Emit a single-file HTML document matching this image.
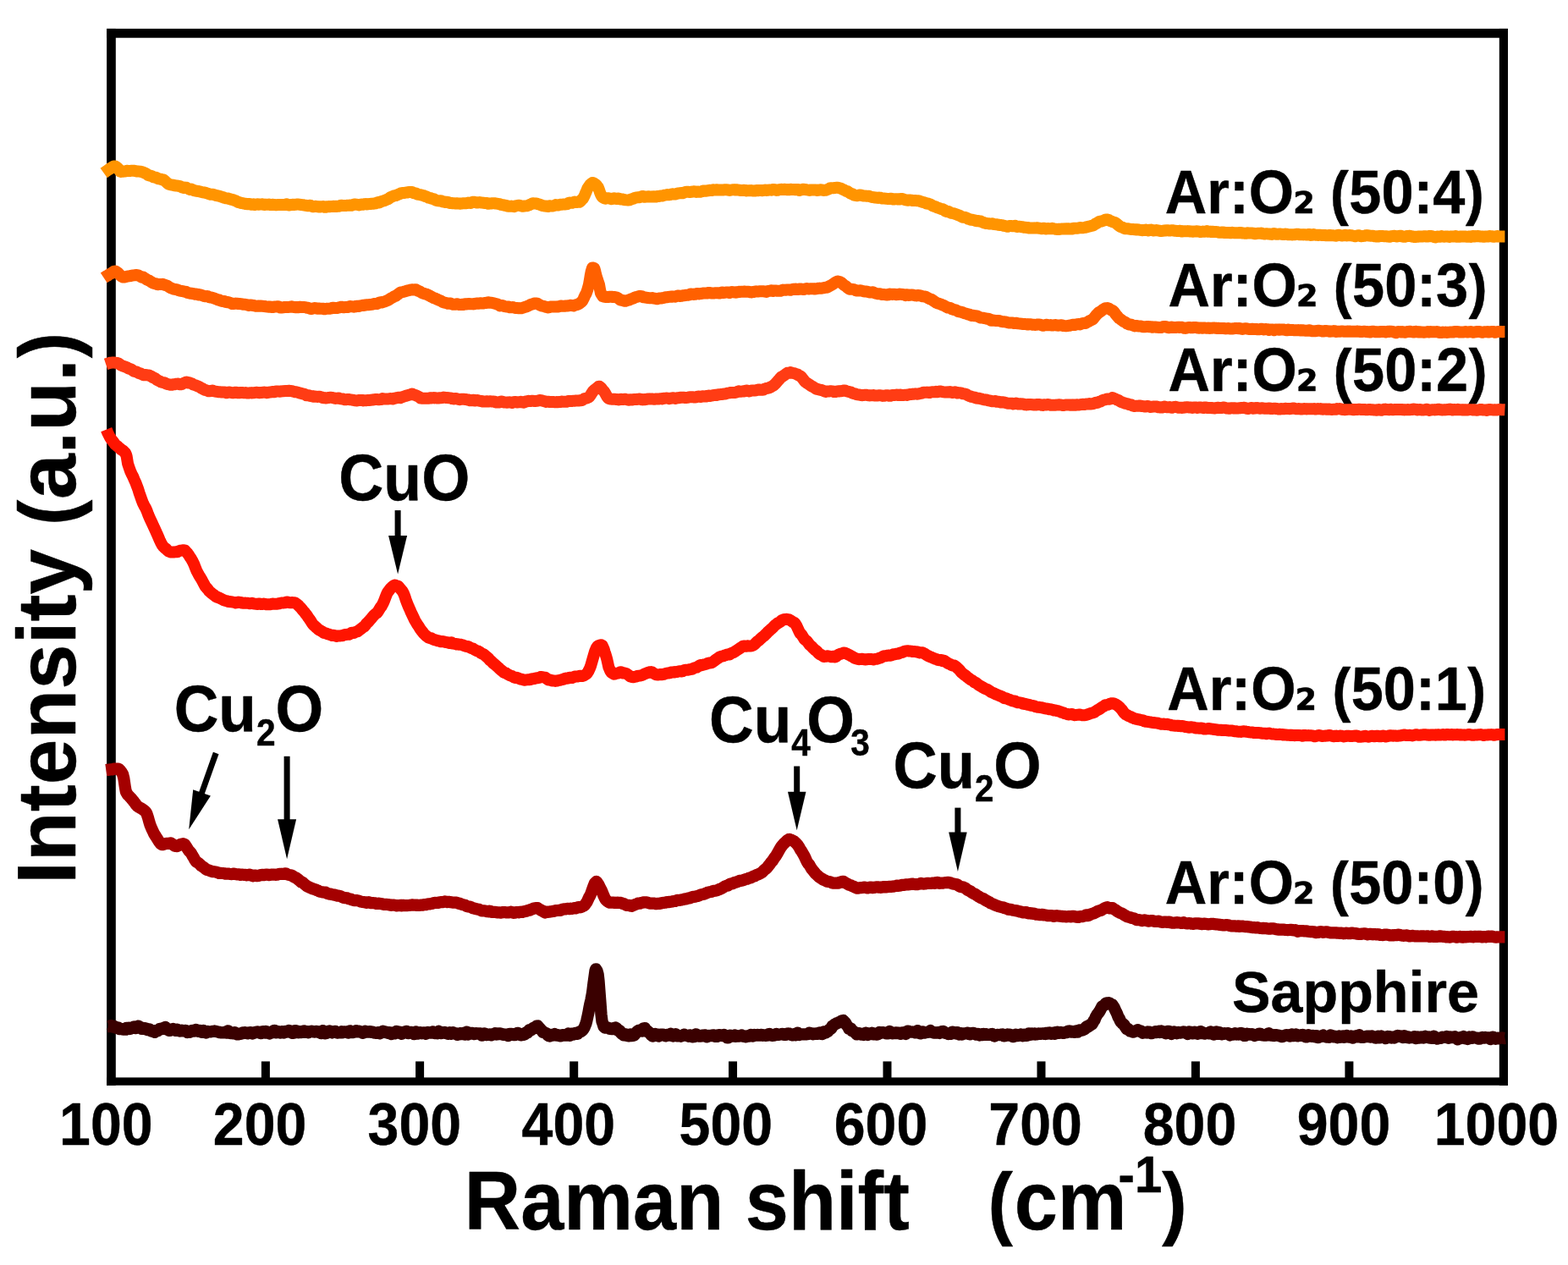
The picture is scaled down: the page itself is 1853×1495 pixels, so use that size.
<!DOCTYPE html>
<html lang="en">
<head>
<meta charset="utf-8">
<title>Raman spectra</title>
<style>
html,body{margin:0;padding:0;background:#fff;}
body{width:1853px;height:1495px;overflow:hidden;}
svg{display:block;filter:blur(0.6px);}
text{font-family:"Liberation Sans",sans-serif;font-weight:bold;fill:#000;stroke:#000;stroke-width:0.45px;stroke-linejoin:round;white-space:pre;}
.dv{font-family:"DejaVu Sans",sans-serif;}
</style>
</head>
<body>
<svg width="1853" height="1495" viewBox="0 0 1853 1495">
<rect x="0" y="0" width="1853" height="1495" fill="#fff"/>
<g fill="#000">
<rect x="126.1" y="33.9" width="1655.90" height="10.80"/>
<rect x="126.1" y="1273.4" width="1655.90" height="9.30"/>
<rect x="126.1" y="33.9" width="10.70" height="1248.80"/>
<rect x="1771.8" y="33.9" width="10.20" height="1248.80"/>
<rect x="308.90" y="1254.4" width="10.0" height="20.00"/>
<rect x="491.10" y="1254.4" width="10.0" height="20.00"/>
<rect x="673.20" y="1254.4" width="10.0" height="20.00"/>
<rect x="861.05" y="1254.4" width="10.0" height="20.00"/>
<rect x="1043.50" y="1254.4" width="10.0" height="20.00"/>
<rect x="1225.50" y="1254.4" width="10.0" height="20.00"/>
<rect x="1407.90" y="1254.4" width="10.0" height="20.00"/>
<rect x="1589.40" y="1254.4" width="10.0" height="20.00"/>
</g>
<text transform="translate(125.3,1352.5) scale(0.953,1.0)" font-size="69.5" text-anchor="middle">100</text>
<text transform="translate(307.1,1352.5) scale(0.953,1.0)" font-size="69.5" text-anchor="middle">200</text>
<text transform="translate(489.8,1352.5) scale(0.953,1.0)" font-size="69.5" text-anchor="middle">300</text>
<text transform="translate(671.8,1352.5) scale(0.953,1.0)" font-size="69.5" text-anchor="middle">400</text>
<text transform="translate(857.8,1352.5) scale(0.953,1.0)" font-size="69.5" text-anchor="middle">500</text>
<text transform="translate(1041.0,1352.5) scale(0.953,1.0)" font-size="69.5" text-anchor="middle">600</text>
<text transform="translate(1223.6,1352.5) scale(0.953,1.0)" font-size="69.5" text-anchor="middle">700</text>
<text transform="translate(1406.0,1352.5) scale(0.953,1.0)" font-size="69.5" text-anchor="middle">800</text>
<text transform="translate(1588.0,1352.5) scale(0.953,1.0)" font-size="69.5" text-anchor="middle">900</text>
<text transform="translate(1768.4,1352.5) scale(0.953,1.0)" font-size="69.5" text-anchor="middle">1000</text>
<text transform="translate(548.8,1452.8) scale(0.938,1.0)" font-size="98" text-anchor="start">Raman shift <tspan font-size="94" x="659.5">(</tspan><tspan dx="2">cm</tspan><tspan font-size="62" dy="-43.4" dx="-10.6">-1</tspan><tspan font-size="94" dy="43.4">)</tspan></text>
<text transform="translate(88.6,1044.8) rotate(-90) scale(1.0,1.03)" font-size="96.3" text-anchor="start">Intensity <tspan font-size="91" dx="1">(</tspan><tspan dx="0.8">a.u.</tspan><tspan font-size="91" dx="0.8">)</tspan></text>
<path d="M127.5,1213.0 L128.5,1213.1 L129.5,1213.1 L130.5,1212.5 L131.5,1211.9 L132.5,1213.3 L133.5,1213.7 L134.5,1212.6 L135.5,1213.7 L136.5,1213.7 L137.6,1214.9 L138.5,1214.3 L139.5,1214.3 L140.5,1215.8 L141.5,1216.1 L142.6,1216.2 L143.5,1216.1 L144.5,1216.1 L145.5,1216.5 L146.5,1216.7 L147.5,1216.6 L148.5,1216.7 L149.5,1214.9 L150.5,1215.0 L151.5,1215.5 L152.5,1214.9 L153.5,1216.0 L154.5,1215.7 L155.5,1215.0 L156.5,1214.9 L157.5,1213.9 L158.5,1213.5 L159.5,1214.9 L160.5,1215.2 L161.5,1214.6 L162.6,1213.8 L163.5,1212.6 L164.5,1213.2 L165.5,1214.1 L166.5,1215.0 L167.5,1215.8 L168.5,1214.9 L169.5,1214.9 L170.5,1216.0 L171.5,1215.7 L172.5,1215.5 L173.5,1216.8 L174.5,1216.3 L175.5,1216.1 L176.5,1216.5 L177.5,1217.7 L178.5,1218.4 L179.5,1217.9 L180.5,1218.0 L181.5,1218.3 L182.6,1219.9 L183.5,1219.4 L184.5,1217.9 L185.5,1218.0 L186.5,1218.1 L187.5,1217.2 L188.5,1216.0 L189.5,1216.0 L190.5,1216.4 L191.5,1215.9 L192.6,1215.2 L193.5,1215.4 L194.5,1214.5 L195.5,1214.0 L196.5,1215.6 L197.5,1216.7 L198.5,1216.9 L199.5,1217.7 L200.5,1217.9 L201.5,1217.0 L202.5,1216.3 L203.5,1216.3 L204.5,1216.0 L205.5,1216.8 L206.5,1217.3 L207.5,1217.8 L208.5,1217.9 L209.5,1216.7 L210.5,1217.8 L211.5,1217.9 L212.7,1218.5 L213.5,1218.2 L214.5,1217.7 L215.5,1218.4 L216.5,1218.1 L217.5,1218.3 L218.5,1217.9 L219.5,1217.9 L220.5,1218.8 L221.5,1219.9 L222.5,1219.4 L223.5,1219.0 L224.5,1219.7 L225.5,1218.9 L226.5,1218.2 L227.5,1217.9 L228.5,1218.6 L229.5,1218.6 L230.5,1217.8 L231.5,1217.2 L232.5,1218.2 L233.5,1218.7 L234.5,1218.3 L235.5,1217.8 L236.5,1217.8 L237.5,1218.6 L238.5,1219.8 L239.5,1219.0 L240.5,1218.0 L241.5,1218.9 L242.5,1219.4 L243.5,1220.5 L244.5,1219.4 L245.5,1219.0 L246.5,1219.3 L247.5,1219.4 L248.5,1219.3 L249.5,1219.3 L250.2,1219.0 L251.5,1218.8 L252.5,1218.8 L253.5,1218.5 L254.5,1218.8 L255.5,1219.0 L256.5,1219.2 L257.5,1219.4 L258.5,1219.8 L259.5,1220.2 L260.5,1220.0 L261.5,1220.3 L262.5,1220.4 L263.5,1220.2 L264.5,1220.4 L265.5,1220.4 L266.5,1219.7 L267.5,1220.7 L268.5,1219.8 L269.5,1218.3 L270.5,1220.2 L271.5,1220.5 L272.5,1221.1 L273.5,1220.5 L274.5,1220.8 L275.3,1221.3 L276.5,1220.4 L277.5,1220.1 L278.5,1221.0 L279.5,1222.2 L280.5,1222.4 L281.5,1222.3 L282.5,1221.7 L283.5,1221.6 L284.5,1221.9 L285.5,1221.4 L286.5,1220.6 L287.5,1221.1 L288.5,1220.5 L289.5,1220.2 L290.5,1220.7 L291.5,1220.9 L292.5,1221.4 L293.5,1221.0 L294.5,1220.4 L295.5,1220.3 L296.5,1220.1 L297.5,1220.5 L298.5,1221.4 L299.5,1221.0 L300.5,1220.2 L301.5,1220.0 L302.5,1219.8 L303.5,1219.7 L304.5,1219.4 L305.5,1220.3 L306.5,1220.3 L307.5,1220.8 L308.5,1221.1 L309.5,1220.3 L310.5,1219.2 L311.5,1219.2 L312.8,1220.5 L313.5,1220.5 L314.5,1219.0 L315.5,1219.3 L316.5,1220.5 L317.5,1220.7 L318.5,1221.4 L319.5,1220.9 L320.5,1220.6 L321.5,1219.9 L322.5,1219.1 L323.5,1218.1 L324.5,1217.8 L325.5,1220.1 L326.5,1220.4 L327.5,1219.7 L328.5,1219.9 L329.5,1219.2 L330.5,1220.5 L331.5,1220.6 L332.5,1220.4 L333.5,1219.1 L334.5,1220.3 L335.5,1220.5 L336.5,1219.7 L337.5,1219.0 L338.5,1219.5 L339.5,1219.5 L340.5,1218.7 L341.5,1218.0 L342.5,1218.2 L343.5,1219.0 L344.5,1220.3 L345.5,1220.8 L346.5,1220.9 L347.5,1219.7 L348.5,1218.2 L349.5,1218.2 L350.4,1218.3 L351.5,1219.2 L352.5,1220.1 L353.5,1219.4 L354.5,1219.1 L355.5,1219.7 L356.5,1220.1 L357.5,1219.9 L358.5,1218.7 L359.5,1218.4 L360.5,1219.0 L361.5,1219.8 L362.5,1219.4 L363.5,1219.1 L364.5,1220.3 L365.5,1219.3 L366.5,1219.1 L367.5,1219.0 L368.5,1218.7 L369.5,1219.1 L370.5,1219.4 L371.5,1219.6 L372.5,1219.5 L373.5,1218.8 L374.5,1218.8 L375.5,1219.8 L376.5,1219.7 L377.5,1220.1 L378.5,1220.5 L379.5,1221.2 L380.5,1219.5 L381.5,1218.1 L382.5,1219.0 L383.5,1220.5 L384.5,1221.3 L385.5,1221.1 L386.5,1220.5 L387.5,1220.3 L388.5,1218.9 L389.5,1218.5 L390.5,1218.7 L391.5,1219.8 L392.5,1220.4 L393.5,1219.8 L394.5,1219.5 L395.5,1219.0 L396.5,1219.0 L397.5,1219.7 L398.5,1220.5 L399.5,1220.1 L400.5,1220.1 L401.5,1220.4 L402.5,1219.9 L403.5,1219.4 L404.5,1220.4 L405.5,1219.7 L406.5,1219.3 L407.5,1219.5 L408.5,1219.7 L409.5,1219.5 L410.5,1220.0 L411.5,1220.5 L412.5,1218.9 L413.5,1218.3 L414.5,1220.0 L415.5,1220.1 L416.5,1220.2 L417.5,1220.0 L418.5,1219.5 L419.5,1219.2 L420.5,1218.4 L421.5,1219.1 L422.5,1219.3 L423.5,1218.6 L424.5,1218.8 L425.5,1219.4 L426.5,1219.8 L427.5,1219.9 L428.5,1220.8 L429.5,1220.7 L430.5,1220.0 L431.5,1218.6 L432.5,1219.1 L433.5,1219.7 L434.5,1219.6 L435.5,1219.7 L436.5,1219.3 L437.5,1219.1 L438.5,1219.7 L439.5,1219.9 L440.5,1219.7 L441.5,1220.0 L442.5,1220.7 L443.5,1220.7 L444.5,1220.8 L445.5,1220.6 L446.5,1220.1 L447.5,1220.2 L448.5,1221.3 L449.5,1220.8 L450.6,1220.5 L451.5,1219.5 L452.5,1218.7 L453.5,1218.9 L454.5,1219.4 L455.5,1219.4 L456.5,1220.3 L457.5,1220.0 L458.5,1220.1 L459.5,1221.1 L460.5,1220.2 L461.5,1220.4 L462.5,1222.1 L463.5,1221.2 L464.5,1220.3 L465.5,1220.3 L466.5,1221.3 L467.5,1220.8 L468.5,1218.9 L469.5,1219.8 L470.5,1220.6 L471.5,1220.5 L472.5,1219.6 L473.5,1220.4 L474.5,1221.8 L475.5,1221.3 L476.5,1220.0 L477.5,1220.2 L478.5,1220.2 L479.5,1220.1 L480.5,1218.8 L481.5,1220.4 L482.5,1221.1 L483.5,1221.0 L484.5,1219.9 L485.5,1219.8 L486.5,1219.8 L487.5,1220.7 L488.5,1221.2 L489.5,1222.1 L490.5,1221.0 L491.5,1219.3 L492.5,1220.3 L493.5,1221.0 L494.5,1221.5 L495.5,1221.2 L496.5,1220.2 L497.5,1220.5 L498.5,1221.2 L499.5,1220.5 L500.6,1220.4 L501.5,1220.3 L502.5,1221.5 L503.5,1221.8 L504.5,1220.8 L505.5,1220.0 L506.5,1220.2 L507.5,1220.4 L508.5,1220.6 L509.5,1220.6 L510.5,1219.5 L511.5,1219.4 L512.5,1220.1 L513.5,1220.9 L514.5,1220.2 L515.5,1220.9 L516.5,1221.2 L517.5,1219.6 L518.5,1218.8 L519.5,1219.3 L520.5,1220.9 L521.5,1221.2 L522.5,1220.6 L523.5,1220.2 L524.5,1220.4 L525.5,1220.0 L526.5,1220.9 L527.5,1221.1 L528.5,1221.3 L529.5,1221.8 L530.5,1220.4 L531.5,1220.2 L532.5,1221.4 L533.5,1221.8 L534.5,1220.5 L535.5,1220.2 L536.5,1221.0 L537.5,1221.4 L538.5,1221.1 L539.5,1222.2 L540.5,1222.9 L541.5,1221.6 L542.5,1221.4 L543.5,1222.4 L544.5,1221.2 L545.5,1222.1 L546.5,1222.0 L547.5,1220.8 L548.5,1221.9 L549.5,1222.5 L550.5,1221.0 L551.5,1219.6 L552.5,1220.9 L553.5,1222.5 L554.5,1221.5 L555.5,1221.8 L556.5,1220.9 L557.5,1220.8 L558.5,1221.0 L559.5,1221.6 L560.7,1222.1 L561.5,1221.7 L562.5,1221.2 L563.5,1221.5 L564.5,1221.6 L565.5,1221.5 L566.5,1221.3 L567.5,1221.4 L568.5,1222.5 L569.5,1223.6 L570.5,1222.7 L571.5,1222.1 L572.5,1221.5 L573.5,1222.0 L574.5,1223.0 L575.5,1222.5 L576.5,1222.8 L577.5,1222.9 L578.5,1222.5 L579.5,1223.2 L580.5,1223.3 L581.5,1222.9 L582.5,1222.1 L583.5,1222.0 L585.0,1221.2 L585.5,1222.2 L586.5,1222.5 L587.5,1222.3 L588.5,1222.3 L589.5,1221.4 L590.5,1221.3 L591.5,1221.3 L592.5,1222.1 L593.5,1222.4 L594.5,1222.9 L595.5,1222.3 L596.5,1222.6 L597.5,1222.6 L598.5,1222.8 L599.5,1223.4 L600.5,1224.0 L601.5,1223.4 L602.5,1221.9 L603.5,1222.2 L604.5,1221.9 L605.5,1222.2 L606.5,1222.1 L607.5,1223.1 L608.5,1223.2 L609.5,1222.4 L610.5,1221.4 L611.5,1220.8 L612.5,1221.0 L613.5,1222.0 L614.5,1222.9 L615.5,1223.4 L616.5,1223.1 L617.6,1222.0 L618.5,1222.2 L619.5,1222.7 L620.5,1222.1 L621.5,1220.7 L622.5,1219.8 L623.5,1220.5 L624.5,1218.9 L625.5,1217.2 L626.4,1217.8 L627.5,1217.4 L628.5,1216.4 L629.5,1215.5 L630.5,1214.7 L631.5,1215.3 L632.5,1214.1 L633.9,1212.7 L634.5,1212.9 L635.5,1212.5 L636.5,1214.0 L637.5,1214.8 L638.5,1216.0 L639.5,1217.1 L640.5,1218.0 L641.5,1219.8 L642.5,1219.8 L643.5,1220.3 L644.5,1220.8 L645.5,1221.1 L646.5,1221.8 L647.5,1223.4 L648.5,1224.2 L649.5,1224.5 L650.8,1223.3 L651.5,1222.9 L652.5,1223.3 L653.5,1223.5 L654.5,1223.0 L655.5,1222.2 L656.5,1223.0 L657.5,1223.7 L658.5,1223.7 L659.5,1223.2 L660.5,1223.4 L661.5,1224.3 L662.5,1224.3 L663.5,1223.5 L664.5,1223.1 L665.5,1223.2 L666.5,1223.6 L667.5,1223.2 L668.5,1223.3 L669.5,1223.6 L670.5,1222.3 L671.5,1221.7 L672.4,1222.6 L673.5,1223.8 L674.5,1222.8 L675.5,1221.6 L676.5,1222.5 L677.5,1222.6 L678.5,1222.0 L679.5,1220.8 L680.5,1220.9 L681.5,1221.4 L682.5,1221.8 L683.2,1220.8 L684.5,1219.7 L685.5,1219.1 L686.5,1219.3 L687.5,1218.3 L688.6,1217.5 L689.5,1216.1 L690.5,1214.4 L691.3,1212.5 L692.5,1209.5 L693.4,1205.9 L694.5,1201.0 L695.5,1196.3 L696.7,1189.6 L697.5,1185.8 L698.5,1181.6 L699.9,1174.2 L700.5,1169.7 L701.5,1161.7 L702.1,1157.4 L703.5,1147.2 L704.2,1145.3 L705.5,1147.3 L706.6,1151.3 L707.5,1159.0 L708.5,1172.2 L709.2,1181.4 L710.5,1198.9 L711.5,1207.1 L712.5,1209.9 L713.5,1213.2 L714.5,1214.3 L715.5,1214.6 L716.5,1214.6 L717.5,1214.3 L718.5,1214.6 L719.9,1215.2 L720.5,1215.8 L721.5,1215.4 L722.5,1216.1 L723.5,1216.1 L724.5,1215.2 L725.5,1215.5 L726.3,1215.7 L727.5,1214.6 L728.5,1215.2 L729.5,1217.1 L730.5,1217.9 L731.7,1217.7 L732.5,1218.2 L733.5,1220.2 L734.5,1221.6 L735.5,1221.4 L736.5,1221.8 L737.1,1223.3 L738.5,1223.5 L739.5,1222.4 L740.5,1222.5 L741.5,1223.4 L742.5,1224.4 L743.5,1224.3 L744.5,1223.2 L745.5,1222.5 L746.5,1224.0 L747.9,1223.0 L748.5,1223.7 L749.5,1223.5 L750.5,1222.2 L751.5,1221.0 L752.5,1219.5 L753.5,1218.5 L754.4,1218.1 L755.5,1217.6 L756.5,1217.6 L757.5,1217.2 L758.5,1218.6 L759.5,1218.5 L760.5,1215.3 L762.0,1215.2 L762.5,1216.8 L763.5,1217.4 L764.5,1217.8 L765.5,1218.8 L766.5,1219.9 L767.4,1220.2 L768.5,1221.7 L769.5,1223.1 L770.5,1224.0 L771.5,1224.5 L772.8,1223.8 L773.5,1223.1 L774.5,1222.0 L775.5,1222.3 L776.5,1222.6 L777.5,1224.1 L778.5,1224.6 L779.5,1223.2 L780.5,1222.6 L781.5,1222.6 L782.5,1222.7 L783.5,1222.7 L784.5,1223.4 L785.5,1223.4 L786.5,1224.3 L787.5,1223.9 L788.9,1222.9 L789.5,1222.8 L790.5,1223.5 L791.5,1222.6 L792.5,1221.8 L793.5,1222.4 L794.5,1223.1 L795.5,1224.5 L796.5,1223.7 L797.5,1222.6 L798.5,1222.2 L799.5,1224.1 L800.5,1224.4 L801.5,1223.9 L802.5,1223.8 L803.5,1224.2 L804.5,1224.7 L805.5,1224.3 L806.5,1223.9 L807.5,1223.7 L808.5,1222.6 L809.5,1223.3 L810.4,1223.7 L811.5,1223.6 L812.5,1224.1 L813.5,1224.7 L814.5,1224.0 L815.5,1223.3 L816.5,1224.4 L817.5,1225.2 L818.5,1225.3 L819.5,1225.2 L820.5,1225.1 L821.5,1223.8 L822.5,1222.3 L823.5,1223.1 L824.5,1223.4 L825.5,1224.2 L826.5,1224.6 L827.5,1224.2 L828.5,1224.5 L829.5,1223.7 L830.5,1224.2 L831.5,1223.6 L832.5,1223.3 L833.5,1223.4 L834.5,1224.5 L835.5,1225.3 L836.5,1224.2 L837.5,1224.0 L838.5,1224.4 L839.5,1223.9 L840.5,1224.1 L841.5,1223.9 L842.5,1223.3 L843.5,1223.4 L844.5,1224.7 L845.5,1224.3 L846.5,1224.0 L847.5,1224.8 L848.5,1224.3 L849.5,1223.2 L850.5,1223.2 L851.5,1223.8 L852.5,1223.9 L853.5,1224.1 L854.5,1223.2 L855.5,1223.0 L856.5,1224.0 L857.5,1224.6 L858.5,1224.7 L859.5,1226.4 L860.5,1226.4 L861.5,1224.5 L862.5,1223.7 L863.5,1224.2 L864.5,1224.0 L865.5,1224.3 L866.5,1224.6 L867.5,1224.0 L868.5,1223.4 L869.5,1224.9 L870.5,1224.1 L871.5,1224.1 L872.5,1224.7 L873.5,1224.5 L874.5,1224.4 L875.5,1224.3 L876.5,1223.6 L877.5,1224.3 L878.5,1224.8 L879.5,1224.4 L880.5,1225.2 L881.5,1225.3 L882.5,1224.4 L883.5,1224.6 L884.5,1224.6 L885.5,1224.7 L886.5,1223.6 L887.5,1223.0 L888.5,1224.3 L889.5,1224.5 L890.5,1224.0 L891.5,1223.0 L892.5,1223.1 L893.5,1223.7 L894.5,1223.5 L895.5,1222.9 L896.5,1223.3 L897.5,1223.6 L898.5,1223.0 L899.5,1222.9 L900.5,1223.0 L901.5,1223.7 L902.5,1223.4 L903.5,1223.4 L904.5,1223.9 L905.5,1223.5 L906.5,1223.1 L907.5,1223.4 L908.5,1222.1 L909.5,1222.0 L910.6,1222.9 L911.5,1223.2 L912.5,1223.8 L913.5,1223.4 L914.5,1223.3 L915.5,1223.5 L916.5,1222.4 L917.5,1221.9 L918.5,1222.8 L919.5,1222.6 L920.5,1222.8 L921.5,1222.3 L922.5,1222.4 L923.5,1222.2 L924.5,1221.9 L925.5,1222.2 L926.5,1222.8 L927.5,1222.8 L928.5,1222.8 L929.5,1222.0 L930.5,1221.6 L931.5,1221.4 L932.5,1221.6 L933.5,1222.2 L934.5,1222.5 L935.5,1223.0 L936.5,1223.4 L937.5,1223.0 L938.5,1222.2 L939.5,1222.1 L940.5,1223.3 L941.5,1222.4 L942.5,1220.6 L943.5,1222.0 L944.5,1222.9 L945.5,1222.3 L946.5,1222.4 L947.5,1222.3 L948.5,1222.4 L949.5,1222.3 L950.5,1222.4 L951.5,1222.3 L952.5,1222.3 L953.5,1221.9 L954.5,1222.1 L955.5,1221.3 L956.5,1220.6 L957.5,1221.6 L958.5,1221.7 L959.5,1221.5 L960.6,1222.3 L961.5,1221.8 L962.5,1221.9 L963.5,1221.5 L964.5,1221.6 L965.5,1221.9 L966.5,1221.9 L967.5,1220.7 L968.5,1220.5 L969.5,1221.8 L970.5,1221.7 L971.5,1222.2 L972.5,1220.6 L973.5,1219.4 L974.5,1220.2 L975.5,1220.5 L976.5,1220.0 L977.5,1219.3 L978.2,1219.1 L979.5,1217.4 L980.5,1216.3 L981.5,1216.2 L982.5,1215.1 L983.5,1212.6 L984.5,1212.3 L985.7,1211.3 L986.5,1210.4 L987.5,1210.2 L988.5,1209.5 L989.5,1209.0 L990.5,1208.7 L991.5,1208.2 L992.5,1208.1 L993.5,1207.6 L994.5,1206.5 L995.5,1206.3 L996.5,1206.0 L997.5,1207.1 L998.5,1208.0 L999.5,1209.5 L1000.5,1211.3 L1001.5,1212.7 L1002.5,1213.9 L1003.2,1215.7 L1004.5,1215.6 L1005.5,1215.7 L1006.5,1218.0 L1007.5,1218.2 L1008.5,1218.7 L1009.5,1219.8 L1010.7,1220.0 L1011.5,1221.5 L1012.5,1222.4 L1013.5,1222.1 L1014.5,1221.3 L1015.5,1221.1 L1016.5,1222.0 L1017.5,1222.5 L1018.5,1222.3 L1019.5,1222.4 L1020.7,1222.9 L1021.5,1221.9 L1022.5,1220.8 L1023.5,1220.7 L1024.5,1222.1 L1025.5,1222.9 L1026.5,1222.1 L1027.5,1221.5 L1028.5,1221.5 L1029.5,1222.0 L1030.5,1220.8 L1031.5,1221.1 L1032.5,1222.4 L1033.5,1221.7 L1034.5,1221.7 L1035.5,1222.7 L1036.5,1222.7 L1037.5,1222.2 L1038.5,1221.9 L1039.5,1220.0 L1040.5,1220.1 L1041.5,1220.7 L1042.5,1220.3 L1043.5,1220.2 L1044.5,1220.3 L1045.5,1220.7 L1046.5,1220.7 L1047.5,1221.4 L1048.5,1221.4 L1049.5,1221.4 L1050.5,1219.6 L1051.5,1219.0 L1052.5,1220.2 L1053.5,1220.8 L1054.5,1221.3 L1055.5,1221.2 L1056.5,1220.6 L1057.6,1221.1 L1058.5,1220.5 L1059.5,1220.5 L1060.5,1221.2 L1061.5,1221.2 L1062.5,1220.7 L1063.5,1221.0 L1064.5,1221.8 L1065.5,1220.7 L1066.5,1220.4 L1067.5,1220.3 L1068.5,1220.2 L1069.5,1221.5 L1070.5,1221.9 L1071.5,1220.6 L1072.5,1218.7 L1073.5,1218.6 L1074.5,1219.7 L1075.5,1219.5 L1076.5,1219.5 L1077.5,1219.6 L1078.5,1219.5 L1079.5,1219.6 L1080.5,1220.0 L1081.5,1220.3 L1082.5,1220.3 L1083.5,1219.6 L1084.5,1218.1 L1085.5,1219.2 L1086.5,1220.9 L1087.5,1221.4 L1088.5,1221.2 L1089.5,1219.6 L1090.5,1219.3 L1091.5,1219.9 L1092.5,1220.6 L1093.5,1220.2 L1094.5,1220.1 L1095.1,1220.0 L1096.5,1219.8 L1097.5,1219.7 L1098.5,1219.6 L1099.5,1218.0 L1100.5,1219.0 L1101.5,1219.5 L1102.5,1220.1 L1103.5,1220.6 L1104.5,1220.1 L1105.5,1220.6 L1106.5,1220.3 L1107.5,1220.3 L1108.5,1220.2 L1109.5,1220.7 L1110.5,1221.0 L1111.5,1219.7 L1112.5,1219.3 L1113.5,1219.1 L1114.5,1218.9 L1115.5,1219.5 L1116.5,1220.9 L1117.5,1220.8 L1118.5,1221.0 L1119.5,1221.2 L1120.5,1222.0 L1121.5,1221.4 L1122.5,1221.4 L1123.5,1221.9 L1124.5,1220.2 L1125.5,1219.7 L1126.5,1219.8 L1127.5,1219.8 L1128.5,1220.7 L1129.5,1221.5 L1130.5,1221.6 L1131.5,1220.1 L1132.5,1221.7 L1133.5,1222.3 L1134.5,1221.2 L1135.5,1221.8 L1136.5,1222.4 L1137.5,1221.3 L1138.5,1221.4 L1139.5,1221.6 L1140.5,1221.3 L1141.5,1221.3 L1142.5,1220.8 L1143.5,1220.7 L1144.5,1221.8 L1145.2,1222.0 L1146.5,1222.3 L1147.5,1221.7 L1148.5,1221.1 L1149.5,1220.8 L1150.5,1220.8 L1151.5,1221.3 L1152.5,1222.2 L1153.5,1222.6 L1154.5,1222.4 L1155.5,1221.9 L1156.5,1222.6 L1157.5,1223.3 L1158.5,1222.5 L1159.5,1222.4 L1160.5,1223.0 L1161.5,1223.1 L1162.5,1222.0 L1163.5,1222.5 L1164.5,1222.9 L1165.5,1222.3 L1166.5,1222.8 L1167.5,1222.9 L1168.5,1222.8 L1169.5,1222.9 L1170.5,1222.9 L1171.5,1222.1 L1172.5,1222.0 L1173.5,1223.3 L1174.5,1224.3 L1175.5,1224.5 L1176.5,1223.4 L1177.5,1223.4 L1178.5,1223.0 L1179.5,1222.8 L1180.5,1223.2 L1181.5,1223.2 L1182.5,1223.1 L1183.5,1222.6 L1184.5,1222.4 L1185.5,1223.1 L1186.5,1224.3 L1187.5,1224.2 L1188.5,1224.0 L1189.5,1223.0 L1190.5,1222.6 L1191.5,1223.5 L1192.5,1223.2 L1193.5,1222.7 L1194.5,1222.9 L1195.3,1224.2 L1196.5,1224.8 L1197.5,1225.1 L1198.5,1225.0 L1199.5,1223.3 L1200.5,1222.7 L1201.5,1223.1 L1202.5,1224.2 L1203.5,1223.1 L1204.5,1223.4 L1205.5,1223.5 L1206.5,1222.3 L1207.5,1223.7 L1208.5,1224.2 L1209.5,1223.3 L1210.5,1222.7 L1211.5,1223.6 L1212.5,1223.8 L1213.5,1223.8 L1214.5,1222.4 L1215.5,1221.5 L1216.5,1222.5 L1217.5,1222.8 L1218.5,1221.6 L1219.5,1221.4 L1220.5,1221.6 L1221.5,1222.2 L1222.5,1221.4 L1223.5,1222.4 L1224.5,1222.0 L1225.5,1222.4 L1226.5,1221.9 L1227.5,1221.4 L1228.5,1221.6 L1229.5,1221.9 L1230.5,1221.6 L1231.5,1221.6 L1232.8,1221.3 L1233.5,1221.6 L1234.5,1221.9 L1235.5,1222.0 L1236.5,1220.8 L1237.5,1221.4 L1238.5,1221.5 L1239.5,1220.7 L1240.5,1220.4 L1241.5,1221.2 L1242.5,1221.8 L1243.5,1221.6 L1244.5,1221.1 L1245.5,1220.3 L1246.5,1221.8 L1247.5,1221.6 L1248.5,1220.2 L1249.5,1219.7 L1250.5,1220.7 L1251.5,1220.9 L1252.5,1220.3 L1253.5,1220.0 L1254.5,1220.4 L1255.5,1220.5 L1256.5,1220.9 L1257.9,1220.9 L1258.5,1220.1 L1259.5,1220.0 L1260.5,1219.5 L1261.5,1219.9 L1262.5,1218.6 L1263.5,1218.5 L1264.5,1219.0 L1265.5,1219.5 L1266.5,1219.0 L1267.5,1219.6 L1268.5,1219.6 L1269.5,1219.8 L1270.5,1219.9 L1271.5,1218.5 L1272.5,1218.6 L1273.5,1219.7 L1274.5,1218.7 L1275.4,1217.4 L1276.5,1218.1 L1277.5,1217.8 L1278.5,1217.6 L1279.5,1217.3 L1280.5,1216.4 L1281.5,1216.5 L1282.5,1215.7 L1283.5,1213.8 L1284.5,1213.0 L1285.5,1213.6 L1286.5,1213.2 L1287.9,1211.4 L1288.5,1211.7 L1289.5,1211.0 L1290.5,1210.3 L1291.5,1208.6 L1292.5,1206.3 L1293.5,1205.6 L1294.5,1202.8 L1295.5,1200.8 L1296.5,1199.1 L1297.9,1197.2 L1298.5,1196.7 L1299.5,1195.0 L1300.5,1193.2 L1301.5,1191.1 L1302.5,1189.3 L1303.5,1189.0 L1304.5,1188.1 L1305.5,1187.6 L1306.5,1186.1 L1307.5,1185.3 L1308.5,1185.4 L1309.5,1186.0 L1310.5,1185.3 L1311.5,1185.7 L1312.5,1186.7 L1313.5,1187.5 L1314.5,1187.4 L1315.5,1188.9 L1316.5,1190.4 L1317.5,1192.7 L1318.5,1194.9 L1319.5,1196.7 L1320.5,1199.1 L1321.5,1201.9 L1323.0,1204.1 L1323.5,1205.8 L1324.5,1207.6 L1325.5,1208.5 L1326.5,1209.6 L1327.5,1210.4 L1328.5,1211.3 L1329.5,1213.1 L1330.5,1214.4 L1331.5,1216.1 L1332.5,1215.5 L1333.5,1216.3 L1334.5,1217.5 L1335.5,1218.6 L1336.5,1218.6 L1337.5,1218.7 L1338.5,1219.5 L1339.5,1219.7 L1340.5,1219.1 L1341.5,1218.7 L1343.0,1218.1 L1343.5,1217.8 L1344.5,1217.2 L1345.5,1217.9 L1346.5,1218.7 L1347.5,1219.1 L1348.5,1218.5 L1349.5,1219.8 L1350.5,1220.7 L1351.5,1220.4 L1352.5,1220.2 L1353.5,1220.4 L1354.5,1220.2 L1355.5,1220.5 L1356.5,1219.5 L1357.5,1219.6 L1358.5,1219.7 L1359.5,1220.8 L1360.5,1221.2 L1361.5,1221.0 L1362.5,1220.4 L1363.5,1220.4 L1364.5,1219.8 L1365.5,1219.2 L1366.5,1220.1 L1367.5,1220.0 L1368.5,1219.3 L1369.5,1218.8 L1370.6,1219.9 L1371.5,1219.5 L1372.5,1218.6 L1373.5,1219.0 L1374.5,1219.9 L1375.5,1220.2 L1376.5,1220.7 L1377.5,1221.1 L1378.5,1219.8 L1379.5,1219.0 L1380.5,1218.8 L1381.5,1218.8 L1382.5,1220.2 L1383.5,1221.2 L1384.5,1222.0 L1385.5,1221.1 L1386.5,1220.5 L1387.5,1219.5 L1388.5,1219.7 L1389.5,1220.9 L1390.5,1221.2 L1391.5,1220.4 L1392.5,1219.9 L1393.5,1220.5 L1394.5,1220.6 L1395.5,1220.2 L1396.5,1220.4 L1397.5,1219.8 L1398.5,1219.4 L1399.5,1219.6 L1400.5,1220.0 L1401.5,1220.7 L1402.5,1221.3 L1403.5,1221.9 L1404.5,1221.0 L1405.5,1219.3 L1406.5,1219.7 L1407.5,1220.0 L1408.5,1221.1 L1409.5,1221.4 L1410.5,1220.6 L1411.5,1219.7 L1412.5,1220.0 L1413.5,1220.7 L1414.5,1221.6 L1415.5,1221.8 L1416.5,1220.4 L1417.5,1220.1 L1418.5,1219.1 L1419.5,1219.3 L1420.5,1221.1 L1421.5,1220.9 L1422.5,1221.0 L1423.5,1221.6 L1424.5,1221.2 L1425.5,1221.2 L1426.5,1220.9 L1427.5,1221.1 L1428.5,1221.3 L1429.5,1220.1 L1430.5,1219.3 L1431.5,1220.8 L1432.5,1220.9 L1433.5,1222.0 L1434.5,1222.5 L1435.5,1222.0 L1436.5,1220.5 L1437.5,1219.5 L1438.5,1221.0 L1439.1,1221.9 L1440.5,1221.1 L1441.5,1220.4 L1442.5,1221.2 L1443.5,1222.3 L1444.5,1222.0 L1445.5,1222.0 L1446.5,1221.9 L1447.5,1221.2 L1448.5,1221.6 L1449.5,1221.7 L1450.5,1221.1 L1451.5,1221.2 L1452.5,1222.7 L1453.5,1223.4 L1454.5,1222.8 L1455.5,1222.2 L1456.5,1222.5 L1457.5,1222.5 L1458.5,1222.0 L1459.5,1221.2 L1460.5,1221.6 L1461.5,1222.5 L1462.5,1222.2 L1463.5,1222.5 L1464.5,1221.9 L1465.5,1221.1 L1466.5,1221.0 L1467.5,1221.4 L1468.5,1221.4 L1469.5,1222.3 L1470.5,1223.9 L1471.5,1223.9 L1472.5,1223.0 L1473.5,1221.9 L1474.5,1222.5 L1475.5,1222.1 L1476.5,1222.2 L1477.5,1222.6 L1478.5,1222.4 L1479.5,1222.1 L1480.5,1223.1 L1481.5,1223.3 L1482.5,1224.0 L1483.5,1223.2 L1484.5,1223.0 L1485.5,1222.9 L1486.5,1223.0 L1487.5,1221.9 L1488.5,1221.6 L1489.5,1221.9 L1490.5,1222.8 L1491.5,1223.4 L1492.5,1222.9 L1493.5,1223.5 L1494.5,1223.4 L1495.5,1223.6 L1496.5,1223.7 L1497.5,1222.6 L1498.5,1221.6 L1499.5,1221.3 L1500.5,1222.5 L1501.5,1223.5 L1502.5,1222.7 L1503.5,1223.3 L1504.5,1223.9 L1505.5,1224.0 L1506.5,1223.1 L1507.5,1223.4 L1508.5,1223.2 L1509.5,1223.7 L1510.5,1223.6 L1511.5,1223.6 L1512.5,1224.4 L1513.5,1224.2 L1514.2,1225.0 L1515.5,1225.1 L1516.5,1224.6 L1517.5,1224.4 L1518.5,1223.9 L1519.5,1223.3 L1520.5,1223.2 L1521.5,1223.6 L1522.5,1223.4 L1523.5,1224.0 L1524.5,1224.6 L1525.5,1224.1 L1526.5,1222.5 L1527.5,1223.2 L1528.5,1224.1 L1529.5,1223.7 L1530.5,1223.3 L1531.5,1222.4 L1532.5,1223.6 L1533.5,1224.3 L1534.5,1223.9 L1535.5,1223.9 L1536.5,1223.4 L1537.5,1223.2 L1538.5,1223.7 L1539.5,1222.9 L1540.5,1223.3 L1541.5,1224.5 L1542.5,1225.2 L1543.5,1224.8 L1544.5,1225.4 L1545.5,1223.8 L1546.5,1223.2 L1547.5,1224.4 L1548.5,1224.4 L1549.5,1224.7 L1550.5,1224.8 L1551.5,1224.1 L1552.5,1224.7 L1553.5,1224.6 L1554.5,1225.4 L1555.5,1224.1 L1556.5,1225.1 L1557.5,1226.2 L1558.5,1225.0 L1559.5,1224.9 L1560.5,1225.1 L1561.5,1224.7 L1562.5,1224.9 L1563.5,1223.5 L1564.5,1224.3 L1565.5,1224.5 L1566.5,1225.0 L1567.5,1225.5 L1568.5,1224.9 L1569.5,1225.6 L1570.5,1225.8 L1571.5,1225.2 L1572.5,1223.5 L1573.5,1223.7 L1574.5,1224.7 L1575.5,1225.2 L1576.5,1225.4 L1577.5,1224.6 L1578.5,1225.0 L1579.5,1225.8 L1580.5,1226.2 L1581.5,1225.5 L1582.5,1224.4 L1583.5,1225.8 L1584.5,1225.6 L1585.5,1225.7 L1586.5,1224.7 L1587.5,1224.4 L1588.5,1225.8 L1589.3,1225.4 L1590.5,1224.6 L1591.5,1224.0 L1592.5,1224.7 L1593.5,1225.4 L1594.5,1224.9 L1595.5,1225.1 L1596.5,1224.6 L1597.5,1225.5 L1598.5,1226.7 L1599.5,1225.7 L1600.5,1225.4 L1601.5,1224.6 L1602.5,1224.3 L1603.5,1225.2 L1604.5,1225.3 L1605.5,1224.1 L1606.5,1223.2 L1607.5,1224.3 L1608.5,1225.9 L1609.5,1225.3 L1610.5,1225.5 L1611.5,1225.8 L1612.5,1225.3 L1613.5,1225.3 L1614.5,1224.8 L1615.5,1224.7 L1616.5,1225.1 L1617.5,1224.7 L1618.5,1224.6 L1619.5,1225.6 L1620.5,1225.3 L1621.5,1224.6 L1622.5,1225.4 L1623.5,1225.4 L1624.5,1225.5 L1625.5,1226.6 L1626.5,1226.6 L1627.5,1225.6 L1628.5,1224.7 L1629.5,1225.8 L1630.5,1226.3 L1631.5,1225.5 L1632.5,1224.6 L1633.5,1225.3 L1634.5,1225.4 L1635.5,1225.3 L1636.5,1225.6 L1637.5,1227.2 L1638.5,1226.2 L1639.5,1225.0 L1640.5,1225.7 L1641.5,1225.1 L1642.5,1225.3 L1643.5,1225.6 L1644.5,1226.5 L1645.5,1225.6 L1646.5,1225.7 L1647.5,1226.5 L1648.5,1225.9 L1649.5,1225.6 L1650.5,1224.3 L1651.5,1224.0 L1652.5,1224.8 L1653.5,1224.7 L1654.5,1224.4 L1655.5,1225.1 L1656.5,1225.4 L1657.5,1225.9 L1658.5,1224.7 L1659.5,1224.2 L1660.5,1224.6 L1661.5,1225.2 L1662.5,1226.0 L1663.5,1225.9 L1664.4,1225.5 L1665.5,1226.5 L1666.5,1226.2 L1667.5,1226.2 L1668.5,1225.8 L1669.5,1226.2 L1670.5,1225.9 L1671.5,1225.3 L1672.5,1226.0 L1673.5,1227.2 L1674.5,1226.6 L1675.5,1225.4 L1676.5,1225.8 L1677.5,1226.6 L1678.5,1226.4 L1679.5,1225.6 L1680.5,1226.4 L1681.5,1226.0 L1682.5,1226.5 L1683.5,1226.2 L1684.5,1224.9 L1685.5,1225.3 L1686.5,1225.5 L1687.5,1225.9 L1688.5,1225.5 L1689.5,1226.6 L1690.5,1226.4 L1691.5,1226.9 L1692.5,1226.7 L1693.5,1225.8 L1694.5,1224.6 L1695.5,1226.2 L1696.5,1227.2 L1697.5,1227.1 L1698.5,1227.6 L1699.5,1226.9 L1700.5,1226.8 L1701.5,1226.9 L1702.5,1226.8 L1703.5,1226.2 L1704.5,1225.6 L1705.5,1226.1 L1706.5,1225.9 L1707.5,1225.6 L1708.5,1225.6 L1709.5,1224.8 L1710.5,1225.7 L1711.5,1226.8 L1712.5,1226.7 L1713.5,1225.4 L1714.5,1225.7 L1715.5,1225.6 L1716.5,1225.8 L1717.5,1226.1 L1718.5,1225.8 L1719.5,1225.3 L1720.5,1225.8 L1721.5,1227.1 L1722.5,1228.4 L1723.5,1227.7 L1724.5,1226.7 L1725.5,1227.2 L1726.5,1226.3 L1727.5,1225.6 L1728.5,1225.6 L1729.5,1225.1 L1730.5,1226.2 L1731.5,1227.1 L1732.5,1226.5 L1733.5,1227.3 L1734.5,1228.0 L1735.5,1226.8 L1736.5,1225.5 L1737.5,1225.8 L1738.5,1226.5 L1739.5,1226.8 L1740.5,1225.3 L1741.5,1226.0 L1742.5,1226.4 L1743.5,1226.4 L1744.5,1226.7 L1745.5,1226.6 L1746.5,1227.3 L1747.5,1227.6 L1748.5,1227.7 L1749.5,1226.8 L1750.5,1226.3 L1751.5,1226.0 L1752.5,1226.6 L1753.5,1226.6 L1754.5,1226.6 L1755.5,1226.0 L1756.5,1226.3 L1757.5,1226.4 L1758.5,1226.7 L1759.5,1226.4 L1760.5,1227.4 L1761.5,1228.0 L1762.5,1226.4 L1763.5,1225.6 L1764.5,1225.6 L1765.5,1226.7 L1766.5,1226.9 L1767.5,1227.7 L1768.5,1226.9 L1769.5,1226.7 L1770.5,1227.4 L1771.5,1227.1 L1772.5,1226.7 L1773.5,1226.6 L1774.5,1226.7 L1775.5,1226.5 L1776.5,1226.8 L1777.5,1227.0 L1778.4,1226.8" fill="none" stroke="#3A0000" stroke-width="14.3" stroke-linejoin="round" stroke-linecap="butt"/>
<path d="M125.3,910.1 L126.8,909.9 L128.3,909.8 L129.8,909.5 L131.3,909.3 L132.5,909.4 L134.3,908.8 L135.8,908.5 L137.3,908.6 L138.5,908.5 L140.3,908.8 L141.8,910.2 L143.3,912.1 L145.1,915.0 L146.3,919.7 L147.8,930.0 L148.8,935.5 L150.8,939.2 L152.3,940.5 L153.8,942.3 L155.1,943.6 L156.8,945.6 L158.3,947.5 L159.8,949.5 L161.3,951.6 L162.6,952.9 L164.3,954.0 L165.8,954.8 L167.3,955.7 L168.8,956.7 L170.3,957.8 L171.8,959.0 L172.6,960.1 L173.3,961.2 L174.8,965.7 L176.3,971.1 L177.6,975.3 L179.3,979.4 L180.8,982.5 L182.3,985.7 L183.8,988.0 L185.1,990.0 L186.8,992.8 L188.3,995.2 L189.8,997.1 L191.4,998.2 L192.8,998.1 L194.3,997.6 L195.8,997.0 L197.3,996.8 L198.8,996.9 L200.2,996.5 L201.8,996.4 L203.3,997.3 L204.8,998.5 L206.3,999.6 L207.7,1000.0 L209.3,1000.1 L210.8,999.4 L212.3,998.4 L213.8,997.7 L215.3,997.5 L216.4,997.1 L218.3,998.0 L219.8,1000.1 L221.3,1002.5 L223.2,1005.5 L224.3,1006.5 L225.8,1008.2 L227.3,1011.0 L228.8,1013.3 L230.3,1016.2 L231.8,1018.3 L233.0,1018.9 L234.8,1020.2 L236.3,1021.5 L237.8,1023.2 L239.3,1024.2 L240.8,1025.1 L242.3,1026.3 L243.8,1027.6 L245.5,1028.1 L246.8,1028.5 L248.3,1029.1 L249.8,1029.7 L251.3,1030.1 L252.8,1030.1 L254.3,1030.4 L255.8,1030.7 L257.3,1031.2 L258.8,1031.8 L260.3,1031.8 L261.8,1032.0 L263.3,1032.0 L264.8,1032.2 L266.3,1032.6 L267.8,1032.5 L269.3,1032.5 L270.8,1032.8 L272.3,1033.0 L273.8,1033.1 L275.3,1032.8 L276.8,1032.5 L278.3,1033.1 L279.8,1033.4 L281.3,1033.4 L282.8,1033.3 L284.3,1033.9 L285.8,1033.5 L287.3,1033.7 L288.8,1033.9 L290.3,1033.9 L291.8,1034.3 L293.3,1034.1 L294.8,1033.7 L296.3,1034.1 L297.8,1034.9 L299.3,1035.3 L300.3,1034.6 L302.3,1034.7 L303.8,1035.2 L305.3,1035.0 L306.8,1034.5 L308.3,1034.0 L309.8,1033.9 L311.3,1034.1 L312.8,1034.1 L314.3,1033.6 L315.8,1033.6 L317.3,1034.1 L318.8,1033.9 L320.4,1033.7 L321.8,1033.6 L323.3,1033.5 L324.8,1033.7 L326.3,1033.8 L327.8,1033.6 L329.3,1033.0 L330.8,1032.8 L332.3,1032.9 L332.9,1033.0 L333.8,1032.9 L335.3,1032.8 L336.8,1032.4 L338.3,1032.6 L339.8,1033.5 L341.3,1033.9 L342.8,1034.2 L344.3,1034.5 L345.4,1034.9 L347.3,1036.4 L348.8,1037.1 L350.3,1037.7 L351.8,1038.9 L353.3,1040.1 L354.8,1041.4 L355.4,1042.2 L356.3,1042.2 L357.8,1043.0 L359.3,1044.5 L360.8,1045.7 L362.3,1047.0 L362.9,1047.4 L363.8,1047.8 L365.3,1048.4 L366.8,1049.2 L368.3,1049.8 L369.8,1050.5 L371.3,1050.9 L372.8,1051.3 L374.3,1052.0 L375.8,1052.5 L377.3,1053.4 L378.8,1053.8 L380.5,1054.2 L381.8,1054.5 L383.3,1054.6 L384.8,1054.7 L386.3,1055.7 L387.8,1056.0 L389.3,1056.6 L390.8,1056.7 L392.3,1057.1 L393.8,1057.4 L395.3,1057.6 L396.8,1058.1 L398.3,1058.6 L399.8,1058.7 L401.3,1058.8 L402.8,1059.4 L404.3,1060.1 L405.5,1060.7 L407.3,1061.1 L408.8,1061.2 L410.3,1061.4 L411.8,1062.1 L413.3,1062.5 L414.8,1062.8 L416.3,1063.5 L417.8,1063.9 L419.3,1064.1 L420.8,1064.0 L422.3,1064.3 L423.8,1064.5 L425.5,1065.2 L426.8,1065.6 L428.3,1066.0 L429.8,1066.1 L431.3,1066.3 L432.8,1066.8 L434.3,1066.4 L435.8,1066.2 L437.3,1066.7 L438.8,1067.2 L440.3,1067.2 L441.8,1067.2 L443.3,1067.4 L444.8,1068.0 L446.3,1067.8 L447.8,1067.7 L449.3,1068.0 L450.6,1068.1 L452.3,1068.5 L453.8,1068.9 L455.3,1068.8 L456.8,1068.9 L458.3,1069.0 L459.8,1069.3 L461.3,1069.7 L462.8,1069.8 L464.3,1069.6 L465.8,1069.6 L467.3,1069.9 L468.8,1070.3 L470.3,1070.2 L471.8,1070.0 L473.3,1069.9 L474.8,1070.3 L475.6,1069.9 L476.3,1069.8 L477.8,1070.1 L479.3,1070.2 L480.8,1070.2 L482.3,1070.0 L483.8,1069.9 L485.3,1069.7 L486.8,1069.4 L488.3,1069.6 L489.8,1069.6 L491.3,1069.8 L492.8,1069.7 L494.3,1069.8 L495.8,1069.8 L497.3,1069.7 L498.8,1069.7 L500.6,1069.3 L501.8,1069.1 L503.3,1069.1 L504.8,1068.5 L506.3,1068.4 L507.8,1068.4 L509.3,1068.0 L510.8,1067.7 L512.3,1067.2 L513.8,1066.9 L515.3,1067.0 L516.8,1066.9 L518.3,1066.8 L519.8,1066.3 L521.3,1066.2 L522.8,1066.1 L524.3,1065.9 L525.7,1065.4 L527.3,1065.7 L528.8,1066.1 L530.3,1065.8 L531.8,1066.1 L533.3,1066.3 L534.8,1066.6 L536.3,1066.5 L537.8,1066.6 L539.3,1066.5 L540.7,1067.2 L542.3,1067.8 L543.8,1067.9 L545.3,1068.7 L546.8,1069.1 L548.3,1069.5 L549.8,1069.7 L551.3,1070.9 L553.2,1071.4 L554.3,1071.5 L555.8,1071.8 L557.3,1072.4 L558.8,1073.2 L560.3,1073.5 L561.8,1074.0 L563.3,1074.3 L564.8,1074.7 L566.3,1074.9 L567.8,1075.6 L569.3,1076.5 L570.8,1076.4 L572.3,1076.4 L573.8,1076.5 L575.3,1077.1 L576.8,1077.3 L578.3,1076.7 L580.0,1077.0 L581.3,1077.9 L582.8,1077.9 L584.3,1077.8 L585.8,1078.0 L587.3,1078.3 L588.8,1078.3 L590.3,1078.3 L591.8,1078.7 L593.3,1078.3 L594.8,1078.0 L596.3,1078.1 L597.8,1078.3 L599.3,1078.4 L600.8,1078.5 L602.3,1078.3 L603.8,1077.6 L605.1,1078.2 L606.8,1078.8 L608.3,1078.7 L609.8,1078.2 L611.3,1078.1 L612.8,1078.3 L614.3,1077.9 L615.8,1077.7 L617.3,1077.9 L618.8,1077.3 L620.3,1077.1 L621.8,1076.8 L622.6,1076.5 L623.3,1076.1 L624.8,1075.8 L626.3,1075.6 L627.8,1074.7 L629.3,1074.2 L630.8,1073.5 L632.3,1073.3 L633.9,1073.1 L635.3,1073.2 L636.8,1074.2 L638.3,1075.0 L639.8,1076.0 L641.3,1076.5 L642.8,1077.7 L644.3,1078.5 L645.1,1078.0 L645.8,1077.7 L647.3,1077.8 L648.8,1077.7 L650.3,1077.4 L651.8,1077.2 L653.3,1076.9 L654.8,1076.8 L656.3,1076.3 L657.8,1076.0 L659.3,1076.0 L660.8,1075.8 L662.3,1076.0 L663.8,1075.1 L665.2,1074.5 L666.8,1074.4 L668.3,1074.4 L669.8,1074.0 L671.3,1073.8 L672.8,1074.2 L674.3,1073.7 L675.8,1073.9 L677.3,1073.5 L678.8,1073.1 L680.3,1073.4 L681.8,1072.8 L683.3,1072.2 L684.8,1072.2 L685.8,1072.3 L687.8,1071.6 L689.3,1070.8 L690.8,1069.8 L691.8,1068.5 L693.8,1065.6 L695.3,1062.3 L696.1,1060.3 L696.8,1059.4 L698.3,1056.2 L699.4,1053.0 L701.3,1047.8 L702.1,1045.7 L702.8,1044.0 L704.8,1041.9 L705.8,1043.1 L707.5,1045.7 L708.8,1048.3 L710.3,1051.4 L711.2,1053.1 L711.8,1054.5 L713.3,1058.3 L714.8,1061.6 L715.6,1063.0 L716.3,1063.7 L717.8,1065.1 L719.3,1066.1 L719.9,1066.6 L720.8,1066.7 L722.3,1066.7 L723.8,1066.6 L725.3,1066.6 L726.3,1066.9 L728.3,1066.9 L729.8,1066.6 L730.3,1066.9 L731.3,1066.9 L732.8,1066.8 L734.3,1067.1 L735.8,1068.0 L737.3,1068.1 L738.8,1069.0 L740.3,1069.8 L741.8,1069.8 L743.3,1069.9 L744.8,1070.3 L745.3,1070.7 L746.3,1070.8 L747.8,1070.2 L749.3,1069.4 L750.8,1068.9 L752.3,1068.5 L753.8,1067.7 L755.3,1067.6 L756.8,1067.6 L758.3,1066.8 L759.8,1066.7 L760.3,1066.4 L761.3,1066.4 L762.8,1066.5 L764.3,1066.3 L765.8,1066.9 L767.3,1067.5 L768.8,1067.7 L770.3,1067.7 L771.8,1067.5 L773.3,1067.6 L774.8,1067.9 L775.3,1068.1 L776.3,1068.1 L777.8,1067.8 L779.3,1068.0 L780.8,1067.6 L782.3,1067.2 L783.8,1066.8 L785.3,1066.8 L786.8,1066.6 L788.3,1066.1 L789.8,1066.1 L791.3,1065.9 L792.8,1065.7 L794.3,1065.5 L795.8,1065.0 L797.3,1065.0 L797.9,1064.9 L798.8,1064.6 L800.3,1063.9 L801.8,1064.0 L803.3,1063.9 L804.8,1063.6 L806.3,1063.0 L807.8,1063.0 L809.3,1062.4 L810.8,1062.4 L812.3,1062.0 L813.8,1061.4 L815.3,1061.4 L816.8,1060.5 L818.3,1060.1 L819.8,1059.9 L821.3,1059.7 L822.9,1059.2 L824.3,1059.0 L825.8,1058.5 L827.3,1057.9 L828.8,1057.2 L830.3,1057.0 L831.8,1056.8 L833.3,1056.0 L834.8,1055.5 L836.3,1054.7 L837.8,1054.4 L839.3,1054.0 L840.8,1054.0 L842.3,1053.1 L843.8,1052.8 L845.3,1052.7 L846.8,1052.3 L848.0,1051.9 L849.8,1051.2 L851.3,1050.5 L852.8,1049.9 L854.3,1049.0 L855.8,1048.1 L857.3,1047.1 L858.8,1046.8 L860.3,1046.5 L861.8,1045.3 L863.3,1044.5 L864.8,1044.3 L865.5,1044.4 L866.3,1044.0 L867.8,1043.0 L869.3,1042.7 L870.8,1042.2 L872.3,1041.7 L873.8,1040.9 L875.3,1041.0 L876.8,1040.6 L878.3,1040.2 L879.8,1039.6 L881.3,1039.0 L882.8,1038.8 L884.3,1038.1 L885.5,1037.6 L887.3,1037.2 L888.8,1036.4 L890.3,1035.7 L891.8,1035.3 L893.3,1034.4 L894.8,1033.7 L896.3,1033.2 L897.8,1032.4 L899.3,1031.7 L900.6,1030.8 L902.3,1029.0 L903.8,1027.6 L905.3,1026.7 L906.8,1025.1 L908.3,1023.0 L909.8,1021.3 L910.6,1020.0 L911.3,1019.0 L912.8,1017.5 L914.3,1015.2 L915.8,1012.9 L917.3,1010.9 L918.8,1008.4 L920.6,1005.1 L921.8,1003.0 L923.3,1000.6 L924.8,998.8 L926.3,997.0 L928.1,995.3 L929.3,994.2 L930.8,992.9 L932.3,992.0 L933.1,991.8 L933.8,992.4 L935.3,992.7 L936.8,993.5 L938.3,994.3 L939.4,995.2 L941.3,997.1 L942.8,998.8 L944.3,1001.1 L945.8,1004.0 L946.9,1005.4 L948.8,1008.6 L950.3,1011.3 L951.8,1014.3 L953.3,1017.7 L954.8,1020.3 L955.6,1021.4 L956.3,1021.9 L957.8,1024.5 L959.3,1027.0 L960.8,1028.8 L962.3,1030.6 L963.8,1032.5 L965.7,1034.2 L966.8,1035.2 L968.3,1036.7 L969.8,1037.7 L971.3,1038.4 L972.8,1039.6 L974.3,1040.2 L975.8,1040.8 L977.3,1041.7 L978.2,1041.8 L978.8,1041.9 L980.3,1042.0 L981.8,1042.6 L983.3,1043.3 L984.8,1043.7 L986.3,1043.7 L988.2,1043.6 L989.3,1043.7 L990.8,1043.7 L992.3,1042.8 L993.8,1042.4 L994.5,1042.6 L995.3,1041.8 L996.8,1041.9 L998.3,1042.8 L999.8,1043.8 L1001.3,1044.6 L1003.2,1045.6 L1004.3,1046.0 L1005.8,1046.4 L1007.3,1047.2 L1008.8,1047.7 L1010.3,1048.6 L1011.8,1049.2 L1013.2,1049.7 L1014.8,1049.4 L1016.3,1049.1 L1017.8,1049.1 L1019.3,1049.0 L1020.8,1048.6 L1022.3,1048.6 L1023.8,1049.2 L1025.3,1049.4 L1026.8,1048.8 L1028.3,1048.7 L1029.8,1048.7 L1031.3,1049.1 L1032.8,1049.0 L1034.3,1048.5 L1035.8,1048.4 L1037.3,1048.4 L1038.8,1048.6 L1040.3,1048.8 L1041.8,1048.7 L1043.3,1048.3 L1045.0,1048.0 L1046.3,1048.3 L1047.8,1048.3 L1049.3,1048.0 L1050.8,1047.9 L1052.3,1047.9 L1053.8,1047.9 L1055.3,1047.6 L1056.8,1047.4 L1058.3,1047.1 L1059.8,1046.7 L1061.3,1046.8 L1062.8,1046.7 L1064.3,1046.5 L1065.8,1045.9 L1067.3,1045.8 L1068.8,1045.8 L1070.1,1045.3 L1071.8,1045.4 L1073.3,1045.3 L1074.8,1045.2 L1076.3,1045.0 L1077.8,1044.5 L1079.3,1044.8 L1080.8,1045.0 L1082.3,1045.2 L1083.8,1045.2 L1085.3,1044.9 L1086.8,1044.5 L1088.3,1043.9 L1089.8,1044.3 L1091.3,1044.6 L1092.8,1044.5 L1094.3,1044.2 L1095.1,1043.9 L1095.8,1043.9 L1097.3,1043.9 L1098.8,1044.0 L1100.3,1044.0 L1101.8,1043.6 L1103.3,1043.5 L1104.8,1043.9 L1106.3,1043.2 L1107.8,1042.8 L1109.3,1043.7 L1110.8,1043.8 L1112.3,1043.6 L1113.8,1043.7 L1115.3,1043.4 L1116.8,1043.1 L1118.3,1043.1 L1120.2,1042.9 L1121.3,1042.9 L1122.8,1043.2 L1124.3,1043.8 L1125.8,1044.4 L1127.3,1044.6 L1128.8,1045.0 L1130.3,1045.0 L1131.8,1045.8 L1132.7,1046.7 L1133.3,1047.1 L1134.8,1047.8 L1136.3,1048.2 L1137.8,1048.3 L1139.3,1049.0 L1140.8,1049.6 L1142.3,1050.9 L1143.8,1052.0 L1145.2,1052.6 L1146.8,1053.4 L1148.3,1054.6 L1149.8,1055.6 L1151.3,1056.3 L1152.8,1057.0 L1154.3,1058.1 L1155.8,1059.0 L1157.3,1060.0 L1158.8,1060.9 L1160.2,1061.5 L1161.8,1062.0 L1163.3,1063.0 L1164.8,1064.0 L1166.3,1064.7 L1167.8,1065.6 L1169.3,1066.3 L1170.8,1067.4 L1172.3,1068.0 L1173.8,1068.6 L1175.3,1069.3 L1176.8,1069.9 L1178.3,1070.4 L1179.8,1071.1 L1181.3,1071.5 L1182.8,1071.9 L1184.3,1072.2 L1185.8,1072.5 L1187.3,1073.2 L1188.8,1073.6 L1190.3,1074.0 L1191.8,1074.7 L1193.3,1074.9 L1194.8,1074.9 L1195.3,1075.1 L1196.3,1075.5 L1197.8,1075.8 L1199.3,1076.0 L1200.8,1076.3 L1202.3,1076.4 L1203.8,1076.9 L1205.3,1077.4 L1206.8,1077.6 L1208.3,1078.2 L1209.8,1078.5 L1211.3,1078.2 L1212.8,1078.1 L1214.3,1079.1 L1215.8,1079.5 L1217.3,1079.1 L1218.8,1079.6 L1220.3,1079.8 L1221.8,1079.6 L1223.3,1080.0 L1224.8,1080.7 L1226.3,1080.7 L1227.8,1080.9 L1229.3,1081.2 L1230.8,1080.9 L1232.3,1080.8 L1233.8,1081.5 L1235.3,1081.5 L1236.8,1081.7 L1238.3,1082.2 L1239.8,1082.1 L1241.3,1082.1 L1242.8,1082.1 L1244.3,1082.6 L1245.4,1082.9 L1247.3,1082.4 L1248.8,1082.2 L1250.3,1082.5 L1251.8,1082.6 L1253.3,1082.8 L1254.8,1082.9 L1256.3,1083.1 L1257.8,1083.1 L1259.3,1083.3 L1260.8,1083.4 L1262.3,1083.1 L1263.8,1083.2 L1265.3,1083.3 L1266.8,1082.9 L1268.3,1082.9 L1269.8,1083.1 L1270.4,1083.3 L1271.3,1083.6 L1272.8,1083.7 L1274.3,1084.0 L1275.8,1083.2 L1277.3,1083.0 L1278.8,1083.2 L1280.3,1082.7 L1281.8,1082.5 L1283.3,1081.3 L1284.8,1081.4 L1285.4,1082.1 L1286.3,1082.0 L1287.8,1081.2 L1289.3,1080.3 L1290.8,1079.9 L1292.3,1079.5 L1293.8,1078.8 L1295.4,1078.1 L1296.8,1077.2 L1298.3,1076.6 L1299.8,1076.2 L1301.3,1075.7 L1303.0,1074.6 L1304.3,1074.0 L1305.8,1073.1 L1307.3,1072.5 L1308.8,1072.2 L1310.5,1072.9 L1311.8,1073.5 L1313.3,1073.2 L1314.8,1073.2 L1316.3,1074.3 L1317.8,1075.2 L1319.3,1076.1 L1320.5,1077.2 L1322.3,1078.1 L1323.8,1078.9 L1325.3,1079.3 L1326.8,1080.2 L1328.3,1081.1 L1329.8,1082.1 L1330.5,1082.3 L1331.3,1083.0 L1332.8,1083.5 L1334.3,1083.9 L1335.8,1084.2 L1337.3,1085.0 L1338.8,1085.1 L1340.3,1085.4 L1341.8,1086.2 L1343.0,1087.1 L1344.8,1087.0 L1346.3,1087.0 L1347.8,1087.6 L1349.3,1088.1 L1350.8,1087.7 L1352.3,1087.4 L1353.8,1087.5 L1355.3,1088.1 L1356.8,1088.6 L1358.3,1088.4 L1359.8,1088.2 L1361.3,1088.1 L1362.8,1088.3 L1364.3,1088.9 L1365.8,1089.0 L1367.3,1088.9 L1368.8,1088.7 L1370.6,1089.2 L1371.8,1089.5 L1373.3,1089.8 L1374.8,1089.8 L1376.3,1089.6 L1377.8,1089.7 L1379.3,1089.8 L1380.8,1089.7 L1382.3,1089.7 L1383.8,1090.3 L1385.3,1090.7 L1386.8,1090.5 L1388.3,1090.6 L1389.8,1090.3 L1391.3,1090.2 L1392.8,1090.4 L1394.3,1090.5 L1395.8,1090.9 L1397.3,1090.8 L1398.8,1090.2 L1400.3,1090.9 L1401.8,1091.2 L1403.3,1091.4 L1404.8,1091.0 L1406.3,1091.2 L1407.8,1091.6 L1409.3,1091.8 L1410.8,1091.8 L1412.3,1091.3 L1413.8,1091.3 L1415.3,1091.5 L1416.8,1091.4 L1418.3,1091.8 L1419.8,1092.1 L1421.3,1091.9 L1422.8,1091.5 L1424.3,1091.7 L1425.8,1092.0 L1427.3,1092.3 L1428.8,1092.3 L1430.3,1092.1 L1431.8,1091.8 L1433.3,1091.8 L1434.8,1092.1 L1436.3,1092.3 L1437.8,1092.4 L1439.1,1092.5 L1440.8,1092.8 L1442.3,1092.9 L1443.8,1093.2 L1445.3,1093.3 L1446.8,1093.4 L1448.3,1093.2 L1449.8,1093.2 L1451.3,1093.3 L1452.8,1093.8 L1454.3,1094.2 L1455.8,1094.4 L1457.3,1094.3 L1458.8,1094.3 L1460.3,1094.6 L1461.8,1094.5 L1463.3,1094.4 L1464.8,1094.8 L1466.3,1094.7 L1467.8,1094.5 L1469.3,1094.8 L1470.8,1095.0 L1472.3,1095.2 L1473.8,1095.2 L1475.3,1095.3 L1476.8,1095.5 L1478.3,1095.8 L1479.8,1096.1 L1481.3,1096.1 L1482.8,1096.2 L1484.3,1096.4 L1485.8,1096.1 L1487.3,1096.5 L1489.2,1097.0 L1490.3,1097.0 L1491.8,1097.1 L1493.3,1096.8 L1494.8,1097.2 L1496.3,1097.1 L1497.8,1097.5 L1499.3,1097.6 L1500.8,1097.6 L1502.3,1097.4 L1503.8,1097.4 L1505.3,1097.3 L1506.8,1097.9 L1508.3,1098.2 L1509.8,1098.4 L1511.3,1098.6 L1512.8,1098.6 L1514.3,1098.6 L1515.8,1098.6 L1517.3,1098.6 L1518.8,1099.0 L1520.3,1099.0 L1521.8,1099.1 L1523.3,1099.0 L1524.8,1098.9 L1526.3,1098.9 L1527.8,1099.3 L1529.3,1099.5 L1530.8,1099.2 L1532.3,1099.9 L1533.8,1100.8 L1535.3,1100.3 L1536.8,1100.0 L1538.3,1100.2 L1539.8,1100.2 L1541.3,1100.3 L1542.8,1100.4 L1544.3,1100.4 L1545.8,1100.8 L1547.3,1101.0 L1548.8,1101.1 L1550.3,1101.1 L1551.8,1101.3 L1553.3,1101.4 L1554.8,1102.1 L1556.3,1101.9 L1557.8,1101.8 L1559.3,1101.4 L1560.8,1101.0 L1562.3,1101.4 L1563.8,1101.8 L1564.3,1101.7 L1565.3,1101.5 L1566.8,1101.4 L1568.3,1101.4 L1569.8,1101.8 L1571.3,1102.2 L1572.8,1102.4 L1574.3,1102.4 L1575.8,1102.3 L1577.3,1102.4 L1578.8,1102.4 L1580.3,1102.6 L1581.8,1102.7 L1583.3,1102.8 L1584.8,1102.7 L1586.3,1102.8 L1587.8,1103.3 L1589.3,1103.1 L1590.8,1102.5 L1592.3,1102.9 L1593.8,1103.2 L1595.3,1103.2 L1596.8,1102.5 L1598.3,1102.6 L1599.8,1103.0 L1601.3,1103.2 L1602.8,1103.2 L1604.3,1103.8 L1605.8,1104.0 L1607.3,1103.9 L1608.8,1103.8 L1610.3,1103.5 L1611.8,1103.4 L1613.3,1103.3 L1614.8,1104.0 L1616.3,1104.4 L1617.8,1104.1 L1619.3,1103.8 L1620.8,1104.1 L1622.3,1104.3 L1623.8,1104.0 L1625.3,1104.3 L1626.8,1104.5 L1628.3,1104.2 L1629.8,1104.4 L1631.3,1104.9 L1632.8,1105.0 L1634.3,1105.1 L1635.8,1104.8 L1637.3,1104.5 L1638.8,1104.7 L1639.4,1104.7 L1640.3,1104.8 L1641.8,1105.2 L1643.3,1105.5 L1644.8,1105.4 L1646.3,1105.5 L1647.8,1105.0 L1649.3,1105.1 L1650.8,1105.1 L1652.3,1104.7 L1653.8,1104.8 L1655.3,1105.3 L1656.8,1105.6 L1658.3,1105.8 L1659.8,1105.7 L1661.3,1105.6 L1662.8,1105.4 L1664.3,1105.9 L1665.8,1106.4 L1667.3,1106.2 L1668.8,1105.9 L1670.3,1106.1 L1671.8,1106.4 L1673.3,1106.5 L1674.8,1106.3 L1676.3,1106.5 L1677.8,1106.5 L1679.3,1106.4 L1680.8,1106.4 L1682.3,1106.4 L1683.8,1106.5 L1685.3,1106.5 L1686.8,1106.3 L1688.3,1106.6 L1689.5,1107.0 L1691.3,1106.6 L1692.8,1106.3 L1694.3,1106.9 L1695.8,1106.8 L1697.3,1106.8 L1698.8,1106.9 L1700.3,1106.6 L1701.8,1106.4 L1703.3,1106.6 L1704.8,1106.8 L1706.3,1106.8 L1707.8,1107.0 L1709.3,1107.5 L1710.8,1107.2 L1712.3,1107.4 L1713.8,1107.6 L1715.3,1107.1 L1716.8,1106.8 L1718.3,1106.9 L1719.8,1107.2 L1721.3,1107.6 L1722.8,1107.4 L1724.3,1107.0 L1725.8,1106.9 L1727.3,1107.4 L1728.8,1107.6 L1730.3,1107.2 L1731.8,1107.5 L1733.3,1107.3 L1734.8,1107.1 L1736.3,1107.0 L1737.8,1106.9 L1739.6,1107.1 L1740.8,1107.3 L1742.3,1106.9 L1743.8,1106.9 L1745.3,1107.0 L1746.8,1106.9 L1748.3,1106.9 L1749.8,1106.9 L1751.3,1107.3 L1752.8,1107.3 L1754.3,1107.1 L1755.8,1107.4 L1757.3,1107.0 L1758.8,1106.5 L1760.3,1106.7 L1761.8,1107.0 L1763.3,1106.7 L1764.8,1107.1 L1766.3,1107.5 L1767.8,1107.6 L1769.3,1107.4 L1770.8,1107.5 L1772.3,1107.4 L1773.8,1107.4 L1775.3,1107.3 L1776.8,1107.4 L1778.4,1107.4" fill="none" stroke="#A40000" stroke-width="14.2" stroke-linejoin="round" stroke-linecap="butt"/>
<path d="M125.7,507.6 L127.2,511.2 L128.7,514.4 L130.1,517.1 L131.7,519.4 L133.2,521.2 L134.7,523.2 L136.1,525.2 L137.7,526.6 L139.2,527.6 L140.7,529.1 L142.2,530.3 L143.1,531.2 L143.7,531.6 L145.2,532.4 L146.7,533.8 L148.2,535.5 L149.1,537.6 L149.7,539.6 L151.1,548.1 L152.7,552.9 L154.2,557.1 L155.7,560.4 L157.2,563.3 L158.7,566.9 L160.2,570.1 L161.3,573.0 L163.2,578.0 L164.7,582.9 L166.2,587.1 L167.6,591.1 L169.2,595.2 L170.7,598.2 L172.2,600.7 L173.7,604.1 L175.1,608.0 L176.7,611.8 L178.2,615.0 L179.7,618.1 L181.2,621.5 L182.7,624.6 L184.2,628.0 L185.1,629.9 L185.7,631.2 L187.2,634.8 L188.7,638.3 L190.2,641.4 L191.7,644.2 L192.6,645.4 L193.2,646.1 L194.7,647.6 L196.2,648.6 L197.7,650.2 L199.2,651.5 L200.7,652.1 L202.7,652.6 L203.7,652.4 L205.2,652.6 L206.7,652.4 L208.2,652.2 L209.7,652.3 L210.2,651.8 L211.2,651.3 L212.7,650.8 L214.2,650.6 L215.7,650.3 L217.2,650.4 L217.7,650.2 L218.7,650.6 L220.2,652.3 L221.7,654.0 L223.2,656.1 L224.7,658.6 L225.2,659.2 L226.2,660.8 L227.7,663.5 L229.2,666.6 L230.7,670.5 L232.2,674.2 L233.7,677.1 L235.2,679.9 L236.7,682.4 L238.2,684.7 L239.7,687.6 L241.2,690.4 L242.7,693.2 L244.2,694.9 L245.7,696.5 L247.2,698.6 L247.7,699.1 L248.7,699.9 L250.2,701.2 L251.7,702.4 L253.2,703.4 L254.7,704.7 L256.2,705.5 L257.7,706.0 L259.2,706.7 L260.3,707.1 L262.2,708.1 L263.7,708.9 L265.2,709.5 L266.7,709.9 L268.2,710.3 L269.7,710.9 L271.2,711.0 L272.7,711.2 L274.2,711.4 L275.3,711.6 L277.2,711.9 L278.7,712.5 L280.2,712.2 L281.7,711.6 L283.2,711.8 L284.7,711.9 L286.2,712.6 L287.7,712.8 L289.2,712.6 L290.7,712.7 L292.2,712.7 L293.7,713.0 L295.3,713.3 L296.7,712.9 L298.2,712.8 L299.7,713.3 L301.2,713.6 L302.7,713.8 L304.2,713.9 L305.7,713.5 L307.2,713.4 L308.7,714.0 L310.2,713.9 L311.7,713.6 L312.8,713.8 L314.7,714.3 L316.2,714.3 L317.7,714.3 L319.2,714.3 L320.7,713.9 L322.2,713.6 L323.7,713.7 L325.4,713.7 L326.7,713.8 L328.2,713.5 L329.7,713.3 L331.2,712.8 L332.7,712.5 L334.2,712.4 L335.7,712.4 L337.2,712.2 L337.9,711.8 L338.7,711.6 L340.2,711.6 L341.7,712.1 L343.2,712.3 L344.7,712.0 L346.2,712.2 L347.9,712.3 L349.2,712.7 L350.7,713.7 L352.2,715.0 L353.7,716.7 L355.2,718.0 L356.7,719.9 L357.9,721.4 L359.7,723.4 L361.2,725.5 L362.7,727.3 L364.2,729.6 L365.7,731.6 L367.2,733.9 L368.7,736.3 L370.4,738.6 L371.7,739.7 L373.2,741.1 L374.7,742.4 L376.2,743.9 L377.7,744.7 L379.2,745.6 L380.7,746.4 L382.2,747.6 L383.0,748.1 L383.7,748.1 L385.2,748.5 L386.7,749.1 L388.2,749.6 L389.7,750.0 L391.2,750.4 L392.7,751.1 L394.2,750.8 L395.7,751.1 L397.2,751.7 L398.0,751.9 L398.7,751.6 L400.2,751.5 L401.7,751.4 L403.2,751.3 L404.7,751.2 L406.2,750.6 L407.7,750.0 L409.2,749.9 L410.7,749.8 L412.2,749.8 L413.0,749.7 L413.7,748.9 L415.2,748.0 L416.7,747.8 L418.2,748.0 L419.7,747.1 L421.2,746.6 L422.7,746.2 L424.2,744.9 L425.5,744.0 L427.2,742.8 L428.7,741.5 L430.2,740.6 L431.7,739.0 L433.2,736.8 L434.7,735.5 L436.2,733.8 L438.0,731.7 L439.2,730.4 L440.7,728.5 L442.2,726.9 L443.7,725.5 L445.2,724.5 L446.7,722.8 L448.2,720.2 L449.7,717.8 L450.6,716.8 L451.2,715.8 L452.7,713.0 L454.2,709.5 L455.7,705.6 L457.2,701.7 L458.1,700.0 L458.7,699.2 L460.2,697.2 L461.7,695.2 L463.2,693.9 L464.7,692.6 L466.2,691.6 L466.8,691.5 L467.7,691.9 L469.2,692.5 L470.7,693.0 L472.2,694.7 L473.7,696.5 L475.6,698.8 L476.7,700.7 L478.2,704.4 L479.7,709.0 L481.2,712.9 L483.1,717.6 L484.2,719.9 L485.7,723.5 L487.2,726.6 L488.7,729.8 L490.2,733.0 L491.7,735.5 L493.1,737.8 L494.7,740.2 L496.2,742.7 L497.7,744.7 L499.2,746.7 L500.7,748.6 L502.2,750.1 L503.7,751.6 L505.7,753.0 L506.7,753.7 L508.2,754.2 L509.7,754.3 L511.2,755.2 L512.7,756.1 L514.2,756.3 L515.7,756.7 L517.2,757.3 L518.7,757.3 L520.2,757.8 L520.7,758.2 L521.7,758.3 L523.2,758.0 L524.7,758.3 L526.2,759.0 L527.7,758.9 L529.2,759.3 L530.7,760.0 L532.2,759.4 L533.7,759.3 L535.2,760.6 L536.7,760.7 L538.2,760.9 L539.7,761.5 L541.2,761.3 L542.7,761.7 L544.2,761.7 L545.7,762.0 L547.2,762.6 L548.7,763.2 L550.2,763.7 L551.7,764.1 L553.2,764.1 L554.7,764.8 L556.2,765.8 L557.7,766.2 L559.2,766.7 L560.7,767.7 L562.2,768.6 L563.7,769.2 L565.2,769.6 L566.7,770.4 L568.2,771.7 L569.7,772.6 L571.2,773.0 L572.5,773.9 L574.2,775.4 L575.7,776.8 L577.2,778.0 L578.7,780.0 L580.2,781.1 L581.7,782.5 L582.5,783.7 L583.2,784.0 L584.7,785.2 L586.2,786.5 L587.7,787.9 L589.2,789.1 L590.7,790.7 L592.2,792.0 L593.7,793.1 L595.1,794.4 L596.7,795.2 L598.2,795.6 L599.7,796.8 L601.2,797.4 L602.7,798.3 L604.2,798.7 L605.7,799.4 L607.2,800.3 L608.7,801.0 L610.1,800.7 L611.7,801.2 L613.2,801.8 L614.7,802.5 L616.2,802.7 L617.7,803.2 L619.2,803.7 L620.7,803.7 L622.6,803.4 L623.7,803.3 L625.2,803.2 L626.7,803.0 L628.2,802.5 L629.7,802.3 L631.2,802.1 L632.6,801.6 L634.2,801.3 L635.7,801.2 L637.2,800.9 L638.7,800.1 L640.2,800.0 L642.2,800.4 L643.2,800.4 L644.7,800.8 L646.2,802.2 L647.7,803.4 L648.6,803.3 L649.2,803.2 L650.7,803.8 L652.2,804.5 L653.7,804.3 L655.2,804.6 L656.2,804.9 L658.2,804.6 L659.7,804.1 L661.2,803.9 L662.7,803.5 L664.2,803.2 L665.7,802.8 L667.0,802.2 L668.7,801.6 L670.2,801.8 L671.7,801.4 L673.2,800.7 L674.7,800.9 L676.2,800.9 L677.7,800.3 L679.2,799.6 L680.7,799.6 L682.2,799.5 L683.2,799.2 L685.2,798.7 L686.7,798.9 L688.2,799.0 L689.7,798.6 L690.7,798.0 L692.7,796.7 L694.2,795.2 L695.0,793.9 L695.7,792.6 L697.2,789.3 L698.3,786.4 L700.4,779.0 L701.7,774.5 L703.1,769.7 L704.7,766.0 L706.4,763.5 L707.7,762.9 L709.1,762.5 L710.7,762.3 L711.8,763.0 L713.7,767.3 L714.5,770.2 L715.2,772.2 L716.7,777.0 L717.2,778.8 L718.2,783.2 L719.3,788.4 L721.2,792.9 L722.6,794.8 L724.2,795.8 L725.7,796.7 L726.3,796.6 L727.2,796.0 L728.7,795.8 L730.2,795.6 L731.7,795.1 L733.2,794.3 L733.9,794.3 L734.7,794.8 L736.2,795.4 L737.7,795.3 L739.2,795.8 L740.4,796.3 L742.2,797.4 L743.7,798.6 L745.2,799.6 L746.9,800.1 L748.2,800.2 L749.7,800.0 L751.2,799.7 L752.7,799.3 L753.3,798.8 L754.2,798.8 L755.7,798.6 L757.2,798.3 L758.7,797.9 L760.2,797.4 L762.0,796.3 L763.2,795.9 L764.7,795.4 L766.2,794.7 L767.7,794.3 L769.5,794.1 L770.7,794.5 L772.2,795.7 L773.7,796.4 L775.2,797.3 L777.1,797.4 L778.2,797.4 L779.7,797.1 L781.2,797.1 L782.7,797.2 L784.2,796.9 L785.7,796.3 L787.2,795.8 L788.7,795.5 L790.2,795.4 L791.7,795.3 L793.2,794.5 L794.7,794.4 L796.2,794.3 L797.7,794.4 L799.2,793.9 L800.7,793.9 L801.9,793.4 L803.7,793.2 L805.2,793.6 L806.7,793.2 L808.2,792.3 L809.7,791.7 L811.2,791.7 L812.7,791.8 L814.2,791.4 L815.7,790.9 L817.2,790.9 L818.1,790.8 L818.7,790.1 L820.2,789.6 L821.7,789.0 L823.2,788.7 L824.7,787.9 L826.2,786.8 L827.7,786.1 L828.9,786.2 L830.7,785.7 L832.2,785.3 L833.7,785.0 L835.2,784.6 L836.7,783.8 L838.6,783.4 L839.7,783.5 L841.2,783.2 L843.0,781.9 L844.2,781.0 L845.7,779.8 L847.2,778.7 L848.7,777.8 L850.2,776.7 L851.7,776.0 L853.0,775.6 L854.7,775.3 L856.2,774.6 L857.7,774.2 L859.2,773.6 L860.7,773.6 L862.2,773.5 L863.7,772.3 L865.5,771.4 L866.7,771.3 L868.2,770.3 L869.7,769.2 L871.2,768.2 L872.7,767.2 L874.2,766.3 L875.7,765.2 L877.2,764.2 L878.0,763.7 L878.7,763.4 L880.2,763.5 L881.7,763.8 L883.2,763.3 L884.7,763.4 L886.2,763.6 L888.0,763.3 L889.2,763.1 L890.7,762.2 L892.2,761.1 L893.7,759.3 L895.2,757.9 L896.7,757.1 L898.0,755.7 L899.7,754.1 L901.2,752.8 L902.7,751.8 L904.2,750.3 L905.7,748.8 L907.2,747.1 L908.7,745.8 L910.6,744.0 L911.7,743.1 L913.2,741.8 L914.7,740.1 L916.2,738.7 L917.7,737.6 L919.2,736.3 L920.6,735.8 L922.2,734.7 L923.7,733.2 L925.2,732.7 L926.7,731.9 L928.1,731.9 L929.7,731.8 L931.2,732.1 L932.7,732.4 L934.2,733.3 L935.7,734.2 L937.2,735.3 L938.1,735.7 L938.7,735.7 L940.2,737.7 L941.7,740.3 L943.2,743.6 L944.7,746.9 L945.6,748.5 L946.2,748.8 L947.7,750.7 L949.2,753.1 L950.7,755.5 L952.2,756.8 L953.1,757.4 L953.7,757.9 L955.2,759.9 L956.7,762.0 L958.2,763.3 L959.7,764.6 L961.2,766.3 L963.2,768.2 L964.2,768.8 L965.7,770.1 L967.2,771.8 L968.7,773.2 L970.2,773.8 L971.7,774.7 L973.2,775.9 L974.7,775.9 L976.2,775.7 L977.7,775.3 L979.2,775.4 L980.7,775.8 L982.2,776.2 L983.7,775.9 L985.2,775.7 L985.7,776.4 L986.7,776.5 L988.2,775.7 L989.7,774.5 L991.2,773.6 L992.7,773.0 L994.2,772.5 L995.7,772.2 L997.0,771.4 L998.7,771.6 L1000.2,772.4 L1001.7,773.1 L1003.2,773.8 L1004.7,774.5 L1005.7,775.3 L1007.7,776.3 L1009.2,777.2 L1010.7,778.0 L1012.2,778.4 L1013.7,778.9 L1015.2,779.2 L1015.7,779.1 L1016.7,779.1 L1018.2,778.7 L1019.7,778.9 L1021.2,779.3 L1022.7,779.4 L1024.2,779.3 L1025.7,778.9 L1027.2,778.9 L1028.7,779.1 L1030.2,779.1 L1031.7,779.3 L1032.5,779.5 L1033.2,779.1 L1034.7,778.9 L1036.2,778.7 L1037.7,778.3 L1039.2,777.7 L1040.7,777.4 L1042.2,776.6 L1043.7,775.7 L1045.0,775.3 L1046.7,775.3 L1048.2,774.8 L1049.7,774.6 L1051.2,774.5 L1052.7,774.7 L1054.2,774.2 L1055.7,773.3 L1057.2,773.3 L1058.7,772.8 L1060.1,772.7 L1061.7,772.5 L1063.2,771.7 L1064.7,771.3 L1066.2,770.9 L1067.7,770.3 L1069.2,769.6 L1070.7,769.4 L1072.6,769.2 L1073.7,769.4 L1075.2,769.4 L1076.7,769.6 L1078.2,770.0 L1079.7,770.1 L1081.2,770.0 L1082.7,770.3 L1084.2,770.5 L1085.7,771.0 L1087.2,771.4 L1088.7,771.2 L1090.1,771.3 L1091.7,772.1 L1093.2,772.8 L1094.7,773.9 L1096.2,774.8 L1097.7,775.6 L1099.2,776.2 L1100.7,776.8 L1102.6,777.6 L1103.7,778.1 L1105.2,778.7 L1106.7,779.1 L1108.2,779.9 L1109.7,780.2 L1111.2,779.9 L1112.7,780.2 L1114.2,781.3 L1115.2,781.2 L1115.7,780.8 L1117.2,781.7 L1118.7,782.9 L1120.2,783.9 L1121.7,784.5 L1123.2,785.2 L1124.7,786.0 L1126.2,786.5 L1127.7,786.6 L1129.2,787.5 L1130.7,788.7 L1132.2,790.2 L1133.7,791.6 L1135.2,793.4 L1136.7,795.2 L1138.2,796.3 L1139.7,797.6 L1140.2,797.7 L1141.2,798.4 L1142.7,800.0 L1144.2,801.0 L1145.7,802.2 L1147.2,803.3 L1148.7,803.9 L1150.2,805.1 L1151.7,806.4 L1152.7,806.6 L1154.7,808.0 L1156.2,809.3 L1157.7,810.2 L1159.2,811.1 L1160.7,812.0 L1162.2,812.8 L1163.7,813.7 L1165.2,814.3 L1166.7,814.8 L1168.2,815.8 L1169.7,816.7 L1171.2,817.8 L1172.7,818.5 L1174.2,819.2 L1175.7,819.9 L1177.2,820.6 L1178.7,821.1 L1180.2,821.9 L1181.7,822.4 L1182.8,822.8 L1184.7,823.7 L1186.2,824.9 L1187.7,825.3 L1189.2,825.3 L1190.7,826.0 L1192.2,826.7 L1193.7,827.1 L1195.2,827.9 L1196.7,828.4 L1198.2,828.7 L1199.7,828.5 L1200.3,829.3 L1201.2,829.8 L1202.7,830.2 L1204.2,830.3 L1205.7,830.4 L1207.2,830.8 L1208.7,831.6 L1210.2,831.9 L1211.7,831.8 L1213.2,832.3 L1214.7,832.8 L1216.2,833.0 L1217.7,833.5 L1219.2,833.9 L1220.3,834.0 L1222.2,834.3 L1223.7,835.2 L1225.2,835.5 L1226.7,835.7 L1228.2,835.8 L1229.7,836.1 L1231.2,836.3 L1232.7,836.7 L1234.2,837.1 L1235.7,837.4 L1237.2,837.4 L1238.7,837.8 L1240.2,838.3 L1241.7,838.3 L1243.2,838.7 L1244.7,839.2 L1245.4,839.4 L1246.2,839.3 L1247.7,839.6 L1249.2,840.1 L1250.7,840.3 L1252.2,840.8 L1253.7,841.5 L1255.2,842.0 L1256.7,842.3 L1258.2,843.2 L1259.7,843.5 L1261.2,844.1 L1262.7,844.4 L1264.2,844.3 L1265.4,844.1 L1267.2,844.1 L1268.7,844.8 L1270.2,845.2 L1271.7,844.9 L1273.2,844.8 L1274.7,844.6 L1276.2,844.6 L1277.7,845.0 L1279.2,845.3 L1280.4,845.2 L1282.2,845.2 L1283.7,844.9 L1285.2,844.4 L1286.7,843.8 L1288.2,843.3 L1289.7,842.7 L1291.2,842.6 L1292.9,841.9 L1294.2,841.0 L1295.7,840.0 L1297.2,839.0 L1298.7,838.4 L1300.2,837.4 L1301.7,836.1 L1303.0,835.4 L1304.7,834.5 L1306.2,833.3 L1307.7,832.9 L1309.2,832.8 L1310.5,832.4 L1312.2,831.5 L1313.7,831.2 L1315.5,831.3 L1316.7,831.6 L1318.2,832.3 L1319.7,833.1 L1321.2,834.2 L1323.0,835.8 L1324.2,837.1 L1325.7,838.6 L1327.2,840.9 L1328.7,842.8 L1330.5,844.4 L1331.7,844.9 L1333.2,845.9 L1334.7,846.5 L1336.2,846.9 L1337.7,848.0 L1339.2,848.6 L1340.5,849.1 L1342.2,849.5 L1343.7,850.0 L1345.2,850.3 L1346.7,850.5 L1348.2,851.1 L1349.7,851.2 L1351.2,851.4 L1352.7,852.5 L1354.2,852.8 L1355.7,852.8 L1357.2,853.1 L1358.0,853.3 L1358.7,853.2 L1360.2,853.7 L1361.7,854.0 L1363.2,854.0 L1364.7,854.2 L1366.2,854.4 L1367.7,854.4 L1369.2,854.9 L1370.7,855.3 L1372.2,855.7 L1373.7,855.7 L1375.2,855.6 L1376.7,856.0 L1378.2,855.9 L1379.7,855.8 L1381.2,856.3 L1383.1,856.6 L1384.2,857.2 L1385.7,857.4 L1387.2,857.6 L1388.7,857.7 L1390.2,857.7 L1391.7,857.9 L1393.2,857.7 L1394.7,858.2 L1396.2,858.2 L1397.7,857.9 L1399.2,858.5 L1400.7,858.9 L1402.2,859.0 L1403.7,859.6 L1405.2,859.7 L1406.7,859.3 L1408.2,859.3 L1409.7,859.6 L1411.2,859.8 L1412.7,860.3 L1414.2,860.6 L1415.7,860.6 L1417.2,860.7 L1418.7,860.6 L1420.2,860.6 L1421.7,860.9 L1423.2,861.6 L1424.7,861.6 L1426.2,861.4 L1427.7,861.1 L1429.2,861.0 L1430.7,861.3 L1432.2,861.6 L1433.7,861.8 L1435.2,862.1 L1436.7,862.2 L1438.2,862.5 L1439.7,862.7 L1441.2,862.8 L1442.7,862.8 L1444.2,863.0 L1445.7,863.0 L1447.2,863.1 L1448.7,863.1 L1450.2,863.2 L1451.7,863.5 L1453.2,863.6 L1454.7,863.5 L1456.2,863.6 L1457.7,863.9 L1459.2,864.3 L1460.7,864.3 L1462.2,864.5 L1464.1,864.7 L1465.2,864.7 L1466.7,864.9 L1468.2,864.4 L1469.7,864.3 L1471.2,864.4 L1472.7,864.7 L1474.2,864.9 L1475.7,865.2 L1477.2,865.4 L1478.7,865.4 L1480.2,865.5 L1481.7,865.9 L1483.2,865.9 L1484.7,866.0 L1486.2,866.0 L1487.7,865.9 L1489.2,866.3 L1490.7,866.5 L1492.2,866.7 L1493.7,866.7 L1495.2,866.8 L1496.7,867.2 L1498.2,866.8 L1499.7,866.6 L1501.2,867.0 L1502.7,867.3 L1504.2,867.6 L1505.7,867.6 L1507.2,867.8 L1508.7,868.0 L1510.2,868.1 L1511.7,867.8 L1513.2,868.0 L1514.7,868.1 L1516.2,868.5 L1517.7,868.3 L1519.2,868.4 L1520.7,868.7 L1522.2,868.8 L1523.7,868.8 L1525.2,869.0 L1526.7,868.8 L1528.2,868.9 L1529.7,869.2 L1531.2,869.1 L1532.7,869.1 L1534.2,868.9 L1535.7,869.1 L1537.2,869.2 L1538.7,869.6 L1539.2,869.8 L1540.2,869.0 L1541.7,868.9 L1543.2,869.2 L1544.7,869.3 L1546.2,869.1 L1547.7,869.3 L1549.2,869.3 L1550.7,869.4 L1552.2,869.6 L1553.7,870.3 L1555.2,870.0 L1556.7,869.6 L1558.2,869.0 L1559.7,869.2 L1561.2,869.7 L1562.7,870.1 L1564.2,869.7 L1565.7,869.7 L1567.2,869.5 L1568.7,869.5 L1570.2,869.1 L1571.7,869.1 L1573.2,869.5 L1574.7,870.1 L1576.2,870.2 L1577.7,869.8 L1579.2,869.6 L1580.7,870.1 L1582.2,869.9 L1583.7,869.6 L1585.2,869.7 L1586.7,870.0 L1588.2,870.4 L1589.7,870.1 L1591.2,869.8 L1592.7,869.7 L1594.2,869.7 L1595.7,870.1 L1597.2,869.9 L1598.7,869.9 L1600.2,869.7 L1601.7,869.6 L1603.2,869.4 L1604.7,870.1 L1606.2,870.8 L1607.7,870.8 L1609.2,870.5 L1610.7,870.4 L1612.2,869.9 L1613.7,869.8 L1614.4,870.2 L1615.2,870.2 L1616.7,870.7 L1618.2,870.5 L1619.7,869.9 L1621.2,869.8 L1622.7,870.0 L1624.2,870.2 L1625.7,870.0 L1627.2,869.8 L1628.7,869.7 L1630.2,870.3 L1631.7,870.3 L1633.2,869.8 L1634.7,869.4 L1636.2,870.0 L1637.7,870.6 L1639.2,870.2 L1640.7,869.9 L1642.2,869.2 L1643.7,869.3 L1645.2,869.6 L1646.7,869.7 L1648.2,869.4 L1649.7,869.7 L1651.2,869.8 L1652.7,869.5 L1654.2,869.4 L1655.7,869.3 L1657.2,868.9 L1658.7,868.6 L1660.2,868.6 L1661.7,869.0 L1663.2,869.0 L1664.7,868.9 L1666.2,868.8 L1667.7,869.1 L1669.2,869.4 L1670.7,868.9 L1672.2,868.5 L1673.7,868.3 L1675.2,868.5 L1676.7,868.8 L1678.2,868.7 L1679.7,868.6 L1681.2,868.4 L1682.7,868.2 L1684.2,868.2 L1685.7,868.4 L1687.2,868.5 L1688.7,868.7 L1689.5,868.8 L1690.2,868.5 L1691.7,868.6 L1693.2,868.6 L1694.7,868.4 L1696.2,868.7 L1697.7,868.6 L1699.2,868.2 L1700.7,868.5 L1702.2,868.6 L1703.7,868.4 L1705.2,868.1 L1706.7,868.5 L1708.2,868.4 L1709.7,868.0 L1711.2,867.9 L1712.7,868.3 L1714.2,868.2 L1715.7,868.1 L1717.2,868.5 L1718.7,868.2 L1720.2,868.3 L1721.7,868.1 L1723.2,868.2 L1724.7,868.4 L1726.2,868.3 L1727.7,868.4 L1729.2,868.4 L1730.7,868.7 L1732.2,868.6 L1733.7,868.4 L1735.2,868.0 L1736.7,868.1 L1738.2,868.4 L1739.7,868.8 L1741.2,868.8 L1742.7,868.5 L1744.2,868.5 L1745.7,868.4 L1747.2,868.3 L1748.7,868.2 L1750.2,868.1 L1751.7,868.6 L1753.2,869.0 L1754.7,868.5 L1756.2,868.5 L1757.7,868.5 L1759.2,868.3 L1760.7,868.3 L1762.2,868.1 L1763.7,868.3 L1765.2,868.7 L1766.7,868.7 L1768.2,868.2 L1769.7,868.0 L1771.2,867.9 L1772.7,868.1 L1774.2,868.0 L1775.7,868.0 L1777.2,868.1 L1778.4,868.1" fill="none" stroke="#FF1400" stroke-width="14.0" stroke-linejoin="round" stroke-linecap="butt"/>
<path d="M125.1,430.3 L126.6,429.8 L128.1,429.3 L129.6,428.8 L131.1,428.7 L132.6,428.6 L134.1,428.6 L135.1,428.5 L137.1,428.8 L138.6,429.0 L140.1,429.4 L141.6,430.6 L143.1,431.6 L144.6,432.4 L146.1,432.8 L147.6,433.3 L149.1,433.9 L150.1,434.3 L152.1,435.6 L153.6,435.9 L155.1,436.5 L156.6,437.6 L158.1,438.7 L159.6,439.1 L161.1,439.4 L162.6,440.1 L164.1,441.0 L165.6,441.4 L166.2,441.5 L167.1,441.9 L168.6,442.8 L170.1,443.3 L171.6,443.0 L173.1,443.2 L174.6,443.5 L176.1,443.6 L177.6,444.2 L179.1,445.0 L180.2,445.9 L182.1,446.6 L183.6,447.3 L185.1,448.7 L186.6,449.6 L188.1,450.2 L189.6,451.1 L190.2,451.4 L191.1,451.7 L192.6,452.1 L194.1,452.2 L195.6,453.0 L197.1,453.8 L198.6,454.2 L200.1,454.5 L201.6,454.7 L203.1,454.7 L204.3,454.2 L206.1,454.3 L207.6,453.8 L209.1,453.7 L210.6,453.6 L212.1,454.2 L213.6,454.3 L214.3,454.0 L215.1,454.0 L216.6,453.0 L218.1,452.3 L219.6,451.8 L220.3,451.5 L221.1,452.0 L222.6,452.4 L224.1,452.3 L225.6,453.0 L227.1,453.6 L228.6,454.6 L230.3,455.1 L231.6,455.5 L233.1,456.2 L234.6,456.8 L236.1,457.4 L237.6,458.6 L239.1,459.1 L240.6,460.1 L242.1,460.9 L243.6,461.2 L245.2,461.8 L246.6,462.3 L248.1,462.2 L249.6,461.9 L251.1,461.6 L252.6,462.2 L254.1,462.6 L255.6,462.8 L257.1,462.9 L258.6,463.3 L260.1,463.3 L261.6,463.4 L262.8,463.6 L264.6,463.4 L266.1,463.7 L267.6,464.3 L269.1,464.0 L270.6,463.5 L272.1,463.7 L273.6,464.1 L275.1,464.3 L276.6,464.0 L278.1,463.8 L279.6,463.8 L281.1,464.2 L282.6,464.2 L284.1,464.0 L285.6,464.0 L287.1,464.1 L288.6,464.3 L290.1,464.1 L291.6,464.4 L293.1,464.5 L294.6,464.4 L296.1,464.2 L297.6,464.5 L299.1,464.2 L300.3,464.2 L302.1,463.9 L303.6,463.7 L305.1,464.1 L306.6,464.2 L308.1,464.1 L309.6,464.0 L311.1,463.7 L312.6,463.6 L314.1,463.8 L315.6,464.2 L317.1,463.9 L318.6,463.4 L320.1,463.4 L321.6,463.1 L323.1,463.1 L324.6,463.2 L325.4,462.8 L326.1,462.4 L327.6,462.4 L329.1,462.6 L330.6,462.7 L332.1,462.6 L333.6,462.2 L335.1,462.2 L336.6,462.1 L338.1,461.9 L339.6,462.0 L340.4,461.9 L341.1,461.7 L342.6,462.0 L344.1,461.9 L345.6,462.3 L347.1,462.8 L348.6,463.2 L350.4,463.3 L351.6,463.7 L353.1,464.2 L354.6,464.7 L356.1,464.8 L357.6,465.3 L359.1,465.6 L360.6,466.1 L362.1,467.3 L363.6,467.2 L365.1,467.2 L366.6,468.0 L368.1,468.0 L369.6,468.5 L370.4,468.7 L371.1,468.5 L372.6,468.6 L374.1,468.8 L375.6,468.9 L377.1,468.7 L378.6,468.9 L380.1,469.5 L381.6,470.0 L383.1,470.2 L384.6,470.5 L386.1,470.3 L387.6,470.0 L389.1,469.9 L390.6,469.7 L392.1,469.9 L393.6,470.2 L395.1,470.6 L396.6,470.9 L398.1,470.7 L399.6,470.6 L400.5,470.5 L401.1,470.9 L402.6,471.3 L404.1,471.4 L405.6,471.5 L407.1,472.2 L408.6,472.3 L410.1,472.0 L411.6,471.9 L413.1,472.2 L414.6,472.4 L416.1,472.6 L417.6,472.9 L419.1,473.2 L420.6,473.4 L422.1,473.4 L423.6,473.1 L425.5,473.1 L426.6,472.9 L428.1,473.0 L429.6,473.4 L431.1,473.2 L432.6,473.3 L434.1,472.9 L435.6,472.9 L437.1,473.0 L438.6,472.7 L440.1,472.6 L441.6,472.3 L443.1,472.1 L444.6,472.0 L446.1,472.0 L447.6,472.3 L449.1,472.1 L450.6,472.0 L452.1,471.1 L453.6,471.4 L455.1,471.6 L456.6,471.4 L458.1,471.6 L459.6,471.4 L461.1,471.1 L462.6,471.2 L464.1,471.6 L465.6,471.0 L467.1,470.5 L468.6,470.2 L470.1,470.0 L470.6,469.7 L471.6,469.9 L473.1,470.2 L474.6,469.6 L476.1,468.9 L477.6,468.5 L479.1,468.1 L480.6,467.4 L482.1,467.2 L483.6,466.7 L485.1,466.3 L485.6,466.3 L486.6,465.5 L488.1,466.0 L489.6,466.7 L491.1,467.1 L492.6,467.8 L494.1,468.4 L495.6,469.3 L497.1,470.6 L498.6,470.7 L500.1,470.7 L500.6,470.8 L501.6,470.7 L503.1,470.8 L504.6,470.8 L506.1,470.8 L507.6,470.3 L509.1,470.5 L510.6,470.3 L512.1,470.1 L513.6,470.4 L515.1,470.2 L516.6,470.6 L518.1,470.5 L519.6,470.3 L521.1,470.2 L522.6,470.1 L524.1,469.6 L525.7,469.8 L527.1,469.9 L528.6,470.1 L530.1,470.2 L531.6,470.4 L533.1,470.4 L534.6,471.2 L536.1,471.5 L537.6,471.1 L539.1,471.1 L540.6,471.5 L542.1,472.1 L543.6,472.2 L545.1,471.7 L546.6,471.7 L548.1,471.8 L549.6,471.9 L550.7,472.0 L552.6,472.5 L554.1,472.6 L555.6,473.3 L557.1,473.3 L558.6,472.8 L560.1,472.8 L560.7,473.1 L561.6,473.6 L563.1,473.2 L564.6,473.1 L566.1,473.6 L567.6,473.9 L569.1,474.0 L570.6,474.5 L572.1,474.5 L573.6,474.4 L575.1,474.3 L576.6,474.5 L578.1,474.4 L579.6,474.2 L581.1,474.6 L582.6,474.5 L584.1,474.7 L585.0,474.8 L585.6,475.5 L587.1,475.4 L588.6,475.5 L590.1,475.4 L591.6,474.7 L593.1,474.5 L594.6,475.1 L596.1,475.6 L597.6,475.6 L599.1,475.7 L600.6,475.6 L602.1,475.2 L603.6,475.6 L605.1,476.0 L606.6,475.4 L608.1,474.9 L609.6,475.2 L610.1,475.4 L611.1,475.5 L612.6,475.3 L614.1,475.2 L615.6,474.8 L617.1,475.4 L618.6,475.7 L620.1,475.3 L621.6,474.5 L623.1,474.3 L624.6,473.7 L626.1,474.1 L627.6,474.0 L629.1,473.7 L630.6,473.9 L632.1,473.9 L633.6,473.9 L635.1,473.7 L636.6,473.4 L637.6,472.9 L639.6,473.1 L641.1,473.6 L642.6,474.1 L644.1,474.5 L645.6,474.9 L647.1,474.7 L648.6,474.8 L650.1,475.1 L651.6,475.0 L653.1,475.1 L654.6,475.0 L656.1,475.3 L657.6,475.1 L659.1,475.2 L660.6,475.1 L662.1,475.1 L663.6,474.6 L665.1,474.7 L666.6,474.7 L668.1,474.8 L669.6,474.8 L671.1,474.2 L672.6,473.9 L674.1,474.0 L675.6,474.1 L677.1,473.7 L678.6,473.8 L680.1,473.5 L681.6,473.4 L683.1,473.5 L684.6,473.6 L685.2,473.3 L686.1,473.2 L687.6,473.0 L689.1,472.2 L690.6,471.1 L692.1,470.8 L693.6,470.4 L695.2,469.8 L696.6,468.8 L698.1,466.7 L699.6,464.2 L701.1,462.0 L702.7,460.5 L704.1,459.7 L705.6,458.4 L707.1,457.0 L708.5,456.8 L710.1,458.0 L711.6,460.0 L713.1,461.9 L714.0,462.8 L714.6,463.6 L716.1,466.4 L717.6,469.1 L719.0,470.8 L720.6,471.3 L722.1,471.6 L723.6,471.8 L725.1,471.7 L726.6,471.8 L728.1,471.9 L729.6,472.2 L731.1,472.5 L732.6,472.2 L734.1,471.7 L735.3,472.0 L737.1,471.9 L738.6,471.7 L740.1,472.0 L741.6,472.6 L743.1,472.7 L744.6,472.3 L746.1,472.5 L747.6,472.4 L749.1,471.9 L750.6,471.9 L752.1,472.0 L753.6,471.8 L755.1,471.5 L756.6,471.7 L758.1,472.2 L759.6,472.4 L760.3,472.3 L761.1,472.0 L762.6,472.2 L764.1,471.9 L765.6,471.4 L767.1,471.6 L768.6,471.6 L770.1,471.6 L771.6,471.6 L773.1,471.8 L774.6,471.5 L776.1,471.4 L777.6,471.5 L779.1,471.4 L780.6,471.2 L782.1,471.4 L783.6,471.0 L785.1,470.8 L786.6,470.6 L788.1,470.4 L789.6,470.8 L791.1,471.2 L792.6,470.7 L794.1,470.5 L795.6,470.3 L797.1,470.4 L797.9,471.0 L798.6,470.8 L800.1,470.3 L801.6,470.2 L803.1,470.0 L804.6,469.8 L806.1,469.7 L807.6,469.7 L809.1,470.0 L810.6,470.1 L812.1,469.9 L813.6,469.6 L815.1,469.2 L816.6,469.3 L818.1,469.2 L819.6,469.5 L821.1,469.5 L822.6,469.3 L824.1,468.8 L825.6,468.4 L827.1,468.9 L828.6,468.9 L830.1,468.2 L831.6,468.4 L833.1,468.5 L834.6,468.1 L835.4,468.4 L836.1,467.9 L837.6,467.6 L839.1,468.0 L840.6,467.6 L842.1,467.3 L843.6,467.1 L845.1,466.7 L846.6,467.0 L848.1,466.5 L849.6,466.3 L851.1,466.1 L852.6,466.1 L854.1,465.9 L855.6,465.4 L857.1,465.4 L858.6,465.0 L860.1,464.6 L861.6,464.4 L863.1,464.0 L864.6,463.9 L866.1,464.1 L867.6,463.9 L869.1,463.9 L870.6,463.4 L872.1,462.7 L873.0,462.3 L873.6,462.6 L875.1,462.8 L876.6,462.6 L878.1,462.3 L879.6,462.4 L881.1,461.7 L882.6,461.6 L884.1,462.0 L885.6,462.4 L887.1,461.9 L888.6,461.4 L890.1,461.5 L891.6,461.6 L893.1,461.4 L894.6,460.9 L896.1,460.5 L897.6,460.6 L899.1,460.7 L900.6,460.8 L902.1,460.6 L903.6,459.6 L905.6,459.0 L906.6,458.9 L908.1,458.5 L909.6,458.0 L911.1,457.2 L912.6,456.4 L914.1,455.6 L915.6,454.2 L917.1,452.6 L918.6,450.9 L920.1,449.2 L921.6,447.4 L923.1,445.8 L924.6,445.0 L925.6,444.3 L927.6,442.9 L929.1,441.7 L930.6,440.8 L932.1,440.6 L933.6,440.7 L934.4,440.1 L935.1,440.4 L936.6,440.9 L938.1,441.1 L939.6,441.5 L941.1,442.2 L942.6,442.6 L943.1,443.2 L944.1,443.8 L945.6,444.3 L947.1,445.6 L948.6,447.5 L950.1,449.4 L951.6,451.2 L953.1,452.4 L954.6,453.3 L955.6,453.9 L957.6,455.4 L959.1,456.4 L960.6,457.0 L962.1,458.0 L963.6,459.0 L965.1,459.8 L966.6,460.0 L968.1,460.6 L969.6,460.8 L970.7,461.0 L972.6,461.6 L974.1,462.4 L975.6,462.9 L977.1,462.5 L978.6,462.4 L980.1,462.5 L981.6,462.2 L983.1,462.4 L984.6,462.4 L985.7,463.0 L987.6,463.0 L989.1,462.6 L990.6,462.2 L992.1,462.5 L993.6,462.2 L995.1,462.0 L996.6,461.8 L998.2,461.4 L999.6,461.9 L1001.1,462.5 L1002.6,462.8 L1004.1,463.2 L1005.6,463.6 L1007.1,464.5 L1008.6,465.1 L1010.1,465.3 L1010.7,465.4 L1011.6,465.9 L1013.1,466.3 L1014.6,466.4 L1016.1,466.7 L1017.6,467.1 L1019.1,467.2 L1020.7,466.9 L1022.1,466.8 L1023.6,466.8 L1025.1,467.0 L1026.6,467.3 L1028.1,467.4 L1029.6,467.2 L1031.1,467.2 L1032.6,467.1 L1034.1,467.6 L1035.6,467.4 L1037.1,467.4 L1038.6,467.3 L1040.1,467.3 L1041.6,467.4 L1043.1,467.9 L1045.0,467.7 L1046.1,467.4 L1047.6,467.2 L1049.1,467.3 L1050.6,467.7 L1052.1,467.8 L1053.6,467.1 L1055.1,466.9 L1056.6,467.1 L1058.1,466.9 L1059.6,466.6 L1061.1,467.0 L1062.6,467.0 L1064.1,466.5 L1065.6,466.8 L1067.1,467.1 L1068.6,466.9 L1070.1,466.7 L1071.6,467.0 L1073.1,466.6 L1074.6,466.1 L1076.1,466.1 L1077.6,465.8 L1079.1,465.8 L1080.6,465.5 L1082.1,465.6 L1082.6,465.5 L1083.6,465.7 L1085.1,465.6 L1086.6,465.2 L1088.1,464.9 L1089.6,464.6 L1091.1,463.8 L1092.6,463.8 L1094.1,463.8 L1095.6,463.6 L1097.1,463.8 L1098.6,464.1 L1100.1,463.4 L1101.6,463.3 L1103.1,463.3 L1104.6,463.3 L1106.1,462.8 L1107.6,463.3 L1109.1,462.9 L1110.6,462.4 L1112.1,462.7 L1113.6,463.1 L1115.1,463.3 L1116.6,463.4 L1118.1,463.6 L1119.6,463.5 L1121.1,463.3 L1122.6,463.1 L1124.1,463.7 L1125.6,464.1 L1127.1,463.7 L1128.6,463.3 L1130.1,463.7 L1131.6,464.5 L1132.7,464.2 L1134.6,464.2 L1136.1,464.6 L1137.6,465.2 L1139.1,465.4 L1140.6,465.7 L1142.1,466.1 L1143.6,467.1 L1145.1,467.9 L1146.6,468.3 L1148.1,468.9 L1149.6,469.2 L1150.2,469.3 L1151.1,469.5 L1152.6,470.0 L1154.1,470.5 L1155.6,470.7 L1157.1,470.8 L1158.6,471.2 L1160.1,471.6 L1161.6,472.0 L1163.1,472.3 L1164.6,472.5 L1166.1,472.5 L1167.6,473.2 L1169.1,473.6 L1170.2,473.4 L1172.1,474.2 L1173.6,474.3 L1175.1,474.1 L1176.6,474.1 L1178.1,474.8 L1179.6,474.8 L1181.1,475.0 L1182.6,475.4 L1184.1,475.3 L1185.6,475.3 L1187.1,475.6 L1188.6,476.1 L1190.1,476.5 L1191.6,476.7 L1193.1,476.7 L1194.6,476.7 L1195.3,476.7 L1196.1,476.8 L1197.6,477.4 L1199.1,477.1 L1200.6,476.5 L1202.1,476.9 L1203.6,477.6 L1205.1,477.2 L1206.6,477.3 L1208.1,477.6 L1209.6,477.6 L1211.1,478.2 L1212.6,478.4 L1214.1,478.0 L1215.6,478.2 L1217.1,477.9 L1218.6,477.9 L1220.1,478.3 L1221.6,478.4 L1223.1,478.3 L1224.6,478.5 L1226.1,478.1 L1227.6,478.0 L1229.1,478.2 L1230.6,478.7 L1232.1,478.9 L1232.8,478.7 L1233.6,478.3 L1235.1,478.5 L1236.6,478.5 L1238.1,478.1 L1239.6,478.2 L1241.1,478.7 L1242.6,478.8 L1244.1,478.7 L1245.6,478.7 L1247.1,478.7 L1248.6,478.6 L1250.1,478.4 L1251.6,478.3 L1253.1,478.4 L1254.6,478.6 L1256.1,479.1 L1257.6,478.8 L1259.1,478.5 L1260.6,478.5 L1262.1,478.5 L1263.6,478.5 L1265.1,478.7 L1266.6,478.6 L1268.1,478.7 L1269.6,478.4 L1270.4,478.6 L1271.1,478.7 L1272.6,478.3 L1274.1,478.4 L1275.6,478.5 L1277.1,478.2 L1278.6,477.9 L1280.1,477.7 L1281.6,478.1 L1283.1,477.7 L1284.6,477.4 L1286.1,477.5 L1287.6,477.1 L1289.1,477.4 L1290.6,477.3 L1292.1,477.1 L1292.9,476.7 L1293.6,476.2 L1295.1,475.8 L1296.6,476.0 L1298.1,475.2 L1299.6,474.6 L1301.1,474.3 L1302.6,473.3 L1304.1,472.7 L1305.5,472.4 L1307.1,472.0 L1308.6,471.5 L1310.1,471.5 L1311.6,471.7 L1313.1,471.2 L1314.6,470.1 L1315.5,470.3 L1316.1,471.0 L1317.6,471.3 L1319.1,471.9 L1320.6,472.7 L1322.1,473.2 L1323.6,474.4 L1325.5,475.2 L1326.6,475.6 L1328.1,476.1 L1329.6,476.7 L1331.1,476.9 L1332.6,477.3 L1334.1,478.1 L1335.6,478.3 L1337.1,478.5 L1338.6,479.4 L1340.5,479.9 L1341.6,479.9 L1343.1,479.7 L1344.6,479.7 L1346.1,479.6 L1347.6,479.6 L1349.1,480.0 L1350.6,480.1 L1352.1,480.3 L1353.6,480.6 L1355.1,480.1 L1356.6,480.1 L1358.1,480.5 L1359.6,480.9 L1361.1,480.8 L1362.6,480.6 L1364.1,480.5 L1365.6,480.5 L1367.1,480.6 L1368.6,481.2 L1370.1,481.4 L1370.6,481.3 L1371.6,481.2 L1373.1,481.6 L1374.6,480.9 L1376.1,480.5 L1377.6,480.9 L1379.1,481.3 L1380.6,481.3 L1382.1,481.1 L1383.6,481.5 L1385.1,481.7 L1386.6,481.1 L1388.1,480.9 L1389.6,480.8 L1391.1,481.3 L1392.6,481.7 L1394.1,481.7 L1395.6,481.8 L1397.1,481.9 L1398.6,481.7 L1400.1,481.6 L1401.6,481.2 L1403.1,481.2 L1404.6,481.4 L1406.1,481.4 L1407.6,481.7 L1409.1,482.0 L1410.6,481.7 L1412.1,481.4 L1413.6,481.5 L1415.1,481.9 L1416.6,481.6 L1418.1,481.6 L1419.6,481.6 L1421.1,481.8 L1422.6,482.0 L1424.1,481.6 L1425.6,481.5 L1427.1,482.1 L1428.6,482.1 L1430.1,482.0 L1431.6,482.0 L1433.1,482.2 L1434.6,482.4 L1436.1,482.4 L1437.6,481.9 L1439.1,481.8 L1440.6,482.0 L1442.1,482.1 L1443.6,482.1 L1445.1,481.7 L1446.6,481.4 L1448.1,482.0 L1449.6,482.4 L1451.1,482.5 L1452.6,482.7 L1454.1,482.5 L1455.6,482.2 L1457.1,482.4 L1458.6,482.3 L1460.1,482.5 L1461.6,482.4 L1463.1,482.4 L1464.6,482.3 L1466.1,482.2 L1467.6,481.9 L1469.1,482.0 L1470.6,481.7 L1472.1,482.3 L1473.6,482.8 L1475.1,483.0 L1476.6,482.6 L1478.1,482.1 L1479.6,482.1 L1481.1,482.7 L1482.6,482.3 L1484.1,482.4 L1485.6,481.9 L1487.1,482.4 L1488.6,482.7 L1489.2,482.7 L1490.1,482.5 L1491.6,482.3 L1493.1,482.4 L1494.6,482.8 L1496.1,482.8 L1497.6,482.7 L1499.1,482.6 L1500.6,482.5 L1502.1,483.0 L1503.6,483.1 L1505.1,482.7 L1506.6,482.8 L1508.1,483.0 L1509.6,482.9 L1511.1,483.5 L1512.6,483.4 L1514.1,483.0 L1515.6,483.3 L1517.1,483.3 L1518.6,482.8 L1520.1,483.0 L1521.6,483.0 L1523.1,483.0 L1524.6,483.2 L1526.1,482.9 L1527.6,482.5 L1529.1,482.6 L1530.6,483.0 L1532.1,483.3 L1533.6,483.2 L1535.1,483.1 L1536.6,483.3 L1538.1,483.6 L1539.6,483.4 L1541.1,483.1 L1542.6,483.2 L1544.1,483.5 L1545.6,483.2 L1547.1,483.2 L1548.6,483.2 L1550.1,483.2 L1551.6,483.3 L1553.1,483.0 L1554.6,483.6 L1556.1,483.4 L1557.6,483.1 L1559.1,483.3 L1560.6,483.1 L1562.1,483.6 L1563.6,483.7 L1565.1,483.4 L1566.6,483.5 L1568.1,483.8 L1569.6,483.5 L1571.1,483.6 L1572.6,483.9 L1574.1,484.1 L1575.6,483.7 L1577.1,483.8 L1578.6,483.8 L1580.1,483.1 L1581.6,483.3 L1583.1,483.0 L1584.6,483.3 L1586.1,484.1 L1587.6,484.1 L1589.3,484.2 L1590.6,483.9 L1592.1,483.9 L1593.6,483.7 L1595.1,483.6 L1596.6,483.8 L1598.1,484.0 L1599.6,484.3 L1601.1,484.0 L1602.6,483.9 L1604.1,483.9 L1605.6,483.8 L1607.1,483.7 L1608.6,484.1 L1610.1,483.9 L1611.6,483.9 L1613.1,484.0 L1614.6,484.3 L1616.1,484.2 L1617.6,484.1 L1619.1,484.1 L1620.6,484.2 L1622.1,484.3 L1623.6,484.4 L1625.1,484.6 L1626.6,484.7 L1628.1,484.3 L1629.6,483.9 L1631.1,484.6 L1632.6,484.8 L1634.1,484.2 L1635.6,483.8 L1637.1,483.6 L1638.6,484.1 L1640.1,484.1 L1641.6,484.3 L1643.1,483.7 L1644.6,484.0 L1646.1,484.3 L1647.6,484.1 L1649.1,484.0 L1650.6,484.1 L1652.1,484.0 L1653.6,484.1 L1655.1,484.1 L1656.6,484.0 L1658.1,484.2 L1659.6,484.4 L1661.1,484.2 L1662.6,484.2 L1664.1,484.1 L1665.6,484.3 L1667.1,484.1 L1668.6,484.1 L1670.1,483.4 L1671.6,483.6 L1673.1,483.9 L1674.6,484.4 L1676.1,484.3 L1677.6,483.9 L1679.1,484.1 L1680.6,484.6 L1682.1,484.4 L1683.6,484.3 L1685.1,483.8 L1686.6,483.8 L1688.1,484.5 L1689.5,484.9 L1691.1,484.4 L1692.6,484.3 L1694.1,484.2 L1695.6,484.5 L1697.1,484.2 L1698.6,484.0 L1700.1,483.7 L1701.6,484.0 L1703.1,484.4 L1704.6,484.6 L1706.1,484.2 L1707.6,484.4 L1709.1,484.2 L1710.6,484.1 L1712.1,483.8 L1713.6,483.6 L1715.1,483.9 L1716.6,484.5 L1718.1,484.1 L1719.6,484.1 L1721.1,484.3 L1722.6,483.8 L1724.1,484.2 L1725.6,484.2 L1727.1,484.3 L1728.6,484.5 L1730.1,484.3 L1731.6,484.3 L1733.1,484.5 L1734.6,484.4 L1736.1,484.1 L1737.6,484.0 L1739.1,484.0 L1740.6,484.4 L1742.1,484.1 L1743.6,484.4 L1745.1,484.8 L1746.6,484.6 L1748.1,484.2 L1749.6,484.0 L1751.1,484.1 L1752.6,484.5 L1754.1,484.4 L1755.6,484.5 L1757.1,484.9 L1758.6,484.2 L1760.1,484.0 L1761.6,484.1 L1763.1,484.3 L1764.6,484.4 L1766.1,484.3 L1767.6,484.5 L1769.1,484.5 L1770.6,484.1 L1772.1,483.9 L1773.6,484.2 L1775.1,484.2 L1776.6,484.2 L1778.4,484.3" fill="none" stroke="#FF3C14" stroke-width="14.0" stroke-linejoin="round" stroke-linecap="butt"/>
<path d="M122.7,328.4 L124.2,327.4 L125.7,326.4 L127.2,325.7 L128.7,324.5 L130.1,323.7 L131.7,323.0 L133.2,321.7 L134.7,320.8 L136.2,320.4 L137.1,320.9 L137.7,321.4 L139.2,322.3 L141.1,324.2 L142.2,325.4 L143.7,326.7 L145.1,327.5 L146.7,327.6 L148.2,327.1 L149.7,326.8 L151.2,326.4 L152.7,326.3 L154.2,326.1 L155.7,325.6 L157.2,325.4 L158.7,325.3 L160.2,325.1 L161.7,325.0 L163.2,325.3 L164.7,326.1 L166.2,326.9 L167.7,327.8 L169.2,327.6 L170.2,328.3 L172.2,329.5 L173.7,330.6 L175.2,331.2 L176.7,331.8 L178.2,332.9 L179.7,333.9 L181.2,334.6 L182.7,335.1 L184.2,335.2 L185.7,336.0 L187.2,336.2 L188.7,335.9 L190.2,336.0 L191.7,336.0 L192.2,335.8 L193.2,336.2 L194.7,336.9 L196.2,337.2 L197.7,337.8 L199.2,338.7 L200.7,339.7 L202.2,340.6 L203.7,341.0 L205.2,341.7 L206.7,342.0 L208.2,342.0 L209.7,342.6 L211.2,343.2 L212.7,343.7 L214.2,344.0 L215.7,343.9 L217.2,344.5 L218.7,344.8 L220.2,345.0 L221.7,345.9 L223.2,346.3 L224.7,346.4 L225.2,346.7 L226.2,346.8 L227.7,347.0 L229.2,347.2 L230.7,347.8 L232.2,347.4 L233.7,348.0 L235.2,348.5 L236.7,348.3 L238.2,348.8 L239.7,349.3 L241.2,349.9 L242.7,350.3 L244.2,350.1 L245.7,350.2 L247.2,351.2 L248.7,351.6 L250.2,351.6 L251.7,352.1 L253.2,352.7 L254.7,353.2 L256.2,353.8 L257.7,354.4 L259.2,354.5 L260.7,355.4 L262.2,355.9 L262.8,355.9 L263.7,356.1 L265.2,356.0 L266.7,356.9 L268.2,357.2 L269.7,357.1 L271.2,357.6 L272.7,358.1 L274.2,359.0 L275.3,359.1 L277.2,358.8 L278.7,358.6 L280.2,358.8 L281.7,359.0 L283.2,359.1 L284.7,359.2 L286.2,359.5 L287.7,359.7 L289.2,359.8 L290.7,359.9 L292.2,360.3 L293.7,361.0 L295.2,360.4 L296.7,360.4 L298.2,360.9 L299.7,361.0 L300.3,361.2 L301.2,361.5 L302.7,361.8 L304.2,361.7 L305.7,361.5 L307.2,361.8 L308.7,361.5 L310.2,361.8 L311.7,361.9 L313.2,362.0 L314.7,362.4 L316.2,362.6 L317.7,362.7 L319.2,362.4 L320.7,362.9 L322.2,363.0 L323.7,362.8 L325.4,362.4 L326.7,362.5 L328.2,362.2 L329.7,362.4 L331.2,363.6 L332.7,363.6 L334.2,363.4 L335.7,363.0 L337.2,363.1 L338.7,363.1 L340.2,363.1 L341.7,362.9 L343.2,362.6 L344.7,362.3 L346.2,362.9 L347.7,363.1 L349.2,363.2 L350.4,363.0 L352.2,363.3 L353.7,362.8 L355.2,362.7 L356.7,363.1 L358.2,363.0 L359.7,362.9 L361.2,363.3 L362.7,363.7 L364.2,363.8 L365.7,364.3 L367.2,365.1 L368.7,364.8 L370.2,364.5 L371.7,363.9 L373.2,364.4 L374.7,364.7 L376.2,364.5 L377.7,364.5 L379.2,364.8 L380.7,364.7 L382.2,364.8 L383.0,365.2 L383.7,365.3 L385.2,365.0 L386.7,364.7 L388.2,364.8 L389.7,364.8 L391.2,364.4 L392.7,363.8 L394.2,363.8 L395.7,363.9 L397.2,363.9 L398.7,363.9 L400.5,363.5 L401.7,363.0 L403.2,362.7 L404.7,362.8 L406.2,363.3 L407.7,363.1 L409.2,363.0 L410.7,363.0 L412.2,362.5 L413.7,362.1 L415.2,362.2 L416.7,362.4 L418.2,362.7 L419.7,362.4 L421.2,361.8 L422.7,362.0 L424.2,361.9 L425.5,361.4 L427.2,361.1 L428.7,360.8 L430.2,361.0 L431.7,360.7 L433.2,360.2 L434.7,360.2 L436.2,360.2 L437.7,359.9 L439.2,359.8 L440.7,359.6 L442.2,359.0 L443.7,358.9 L445.2,359.1 L446.7,358.4 L448.2,357.7 L449.7,357.4 L450.6,357.1 L451.2,357.4 L452.7,357.0 L454.2,356.6 L455.7,356.0 L457.2,355.3 L458.7,354.7 L460.2,353.8 L461.7,352.7 L463.1,352.0 L464.7,351.1 L466.2,350.1 L467.7,349.8 L469.2,348.4 L470.7,347.5 L472.2,346.4 L473.7,345.4 L475.6,345.1 L476.7,344.9 L478.2,344.4 L479.7,344.0 L481.2,343.4 L482.7,343.2 L484.2,342.9 L485.7,342.4 L487.2,342.3 L488.1,342.4 L488.7,342.4 L490.2,342.3 L491.7,342.2 L493.2,343.2 L494.7,344.0 L496.2,344.6 L497.7,345.5 L499.2,346.5 L500.6,346.8 L502.2,347.3 L503.7,347.6 L505.2,348.2 L506.7,349.0 L508.2,349.8 L509.7,350.7 L511.2,351.4 L512.7,352.2 L514.2,352.6 L515.7,353.3 L517.2,354.1 L518.7,354.7 L520.2,355.3 L520.7,355.6 L521.7,356.1 L523.2,357.0 L524.7,357.6 L526.2,357.8 L527.7,358.1 L529.2,358.7 L530.7,358.4 L532.2,358.5 L533.7,359.3 L535.2,359.7 L536.7,359.8 L538.2,359.7 L539.7,359.3 L541.2,359.5 L542.7,360.1 L544.2,360.1 L545.7,359.8 L547.2,360.0 L548.7,359.5 L550.2,359.3 L551.7,359.4 L553.2,359.1 L554.7,359.1 L556.2,359.2 L557.7,359.2 L559.2,359.4 L560.7,359.2 L562.2,358.7 L563.7,358.6 L565.2,358.7 L566.7,358.5 L568.2,358.3 L569.7,358.4 L571.2,358.4 L572.7,358.0 L574.2,358.0 L575.7,357.4 L577.5,357.3 L578.7,357.8 L580.2,357.7 L581.7,357.9 L583.2,358.3 L584.7,358.7 L586.2,359.2 L587.7,359.4 L589.2,360.2 L590.7,361.4 L592.2,361.1 L593.7,360.9 L595.1,361.6 L596.7,362.2 L598.2,362.5 L599.7,362.5 L601.2,362.6 L602.7,363.3 L604.2,363.3 L605.7,363.0 L607.2,363.5 L608.7,363.8 L610.2,364.1 L611.7,364.0 L613.2,364.3 L615.1,364.3 L616.2,364.2 L617.7,363.8 L619.2,363.2 L620.7,362.8 L622.2,362.3 L623.7,361.6 L625.2,361.1 L626.7,360.2 L628.2,359.7 L629.7,359.4 L631.2,358.7 L632.6,358.4 L634.2,358.4 L635.7,359.1 L637.2,360.2 L638.7,360.8 L640.2,361.6 L641.7,361.7 L643.2,362.1 L645.1,362.7 L646.2,362.7 L647.7,363.5 L649.2,363.2 L650.7,362.5 L652.2,362.4 L653.7,362.4 L655.2,362.5 L656.7,362.4 L658.2,362.6 L659.7,362.5 L661.2,361.9 L662.7,361.5 L664.2,361.7 L665.2,361.7 L667.2,361.7 L668.7,361.5 L670.2,361.5 L671.7,361.3 L673.2,361.0 L674.7,360.8 L676.2,361.1 L677.7,361.4 L679.2,360.8 L680.7,360.2 L682.2,360.0 L683.2,359.6 L685.2,358.3 L686.7,357.2 L688.3,355.6 L689.7,352.9 L691.2,349.5 L692.1,347.8 L692.7,346.8 L694.2,342.7 L695.9,336.7 L697.2,329.3 L697.8,325.4 L698.7,320.9 L700.1,316.4 L701.7,316.8 L702.3,317.1 L703.2,320.1 L704.2,324.7 L706.1,330.8 L708.0,336.3 L709.2,342.9 L709.9,346.3 L710.7,347.7 L712.4,350.3 L713.7,350.6 L715.2,350.9 L716.7,350.8 L718.2,351.1 L719.7,350.8 L721.2,350.8 L722.7,350.8 L724.2,351.0 L725.3,350.9 L727.2,351.2 L728.7,351.6 L730.2,352.2 L731.7,353.4 L733.2,354.5 L734.7,354.7 L736.2,355.1 L737.8,355.7 L739.2,355.8 L740.7,355.2 L742.2,354.8 L743.7,354.4 L745.2,353.7 L746.7,353.2 L748.2,352.7 L749.7,351.8 L751.2,351.2 L752.7,350.9 L754.2,350.4 L755.3,350.0 L757.2,349.9 L758.7,350.3 L760.2,351.2 L761.7,351.3 L763.2,351.6 L764.7,351.9 L766.2,351.9 L767.7,352.3 L769.2,352.3 L770.7,352.1 L772.2,352.5 L772.8,352.5 L773.7,352.7 L775.2,353.1 L776.7,353.3 L778.2,352.7 L779.7,352.5 L781.2,352.5 L782.7,352.3 L784.2,351.9 L785.7,351.5 L787.2,351.3 L788.7,351.2 L790.2,350.9 L791.7,350.7 L793.2,350.6 L794.7,350.7 L796.2,350.4 L797.9,350.7 L799.2,350.1 L800.7,349.6 L802.2,349.5 L803.7,349.9 L805.2,349.8 L806.7,349.3 L808.2,349.2 L809.7,349.0 L811.2,348.8 L812.7,348.8 L814.2,348.5 L815.7,347.7 L817.2,347.4 L818.7,347.8 L820.2,347.9 L821.7,347.7 L823.2,347.0 L824.7,347.1 L826.2,347.4 L827.7,346.9 L829.2,346.9 L830.7,346.6 L832.2,346.5 L833.7,346.4 L835.4,346.6 L836.7,346.0 L838.2,345.9 L839.7,346.1 L841.2,346.6 L842.7,346.5 L844.2,346.4 L845.7,346.2 L847.2,346.2 L848.7,346.3 L850.2,346.5 L851.7,346.0 L853.2,345.6 L854.7,346.0 L856.2,345.8 L857.7,345.5 L859.2,345.5 L860.7,345.6 L862.2,346.1 L863.7,345.5 L865.2,345.0 L866.7,345.3 L868.2,345.4 L869.7,345.7 L871.2,345.4 L873.0,344.8 L874.2,344.9 L875.7,344.8 L877.2,344.8 L878.7,344.7 L880.2,344.5 L881.7,344.8 L883.2,344.7 L884.7,344.7 L886.2,345.2 L887.7,345.4 L889.2,345.0 L890.7,345.0 L892.2,344.4 L893.7,344.6 L895.2,344.5 L896.7,344.4 L898.2,344.2 L899.7,344.2 L901.2,344.3 L902.7,344.3 L904.2,344.6 L905.7,344.9 L907.2,344.2 L908.7,343.9 L910.6,343.4 L911.7,343.3 L913.2,344.0 L914.7,343.5 L916.2,343.4 L917.7,343.7 L919.2,343.8 L920.7,343.8 L922.2,343.8 L923.7,343.1 L925.2,342.6 L926.7,342.8 L928.2,342.8 L929.7,342.5 L931.2,342.4 L932.7,342.5 L934.2,342.8 L935.6,342.2 L937.2,341.8 L938.7,341.9 L940.2,341.6 L941.7,342.0 L943.2,342.0 L944.7,341.6 L946.2,341.5 L947.7,341.7 L949.2,342.1 L950.7,341.8 L952.2,341.2 L953.7,341.1 L955.2,341.4 L956.7,341.4 L958.2,341.2 L959.7,341.3 L961.2,341.3 L962.7,341.5 L964.2,341.3 L965.7,341.0 L967.2,340.8 L968.7,340.6 L970.2,340.8 L971.7,340.6 L973.2,340.2 L974.7,340.0 L976.2,339.7 L977.7,339.7 L979.2,338.6 L980.7,337.9 L982.2,337.1 L983.2,336.4 L985.2,335.2 L986.7,334.1 L988.2,333.2 L989.7,332.6 L990.7,332.6 L992.7,333.2 L994.2,334.1 L995.7,335.4 L997.2,336.7 L998.2,337.4 L1000.2,338.7 L1001.7,340.3 L1003.2,341.3 L1004.7,341.8 L1005.7,341.7 L1007.7,341.9 L1009.2,342.1 L1010.7,342.9 L1012.2,343.5 L1013.7,343.6 L1015.2,343.4 L1016.7,343.3 L1018.2,343.7 L1019.7,344.0 L1020.7,344.3 L1022.7,344.6 L1024.2,344.6 L1025.7,344.9 L1027.2,345.3 L1028.7,345.6 L1030.2,345.5 L1031.7,345.3 L1033.2,346.0 L1034.7,346.7 L1036.2,347.0 L1037.7,347.3 L1039.2,347.3 L1040.7,347.5 L1042.2,347.9 L1043.7,348.0 L1045.0,348.1 L1046.7,348.3 L1048.2,348.5 L1049.7,348.3 L1051.2,347.6 L1052.7,347.7 L1054.2,347.9 L1055.7,347.8 L1057.2,347.7 L1058.7,348.2 L1060.2,348.0 L1061.7,347.9 L1063.2,347.5 L1064.7,347.8 L1066.2,348.0 L1067.7,348.0 L1069.2,348.6 L1070.1,349.0 L1070.7,348.2 L1072.2,348.2 L1073.7,348.9 L1075.2,348.8 L1076.7,348.5 L1078.2,348.4 L1079.7,348.9 L1081.2,349.2 L1082.7,349.4 L1084.2,349.0 L1085.7,349.1 L1087.2,349.3 L1088.7,349.6 L1090.1,350.2 L1091.7,350.4 L1093.2,350.5 L1094.7,351.1 L1096.2,351.9 L1097.7,352.8 L1099.2,353.4 L1100.7,353.9 L1102.2,354.9 L1103.7,355.9 L1105.1,356.9 L1106.7,357.8 L1108.2,358.4 L1109.7,358.8 L1111.2,359.3 L1112.7,360.1 L1114.2,360.7 L1115.7,361.2 L1117.2,362.1 L1118.7,362.9 L1120.2,363.6 L1121.7,363.7 L1123.2,364.1 L1124.7,365.1 L1125.2,365.2 L1126.2,365.8 L1127.7,366.0 L1129.2,366.3 L1130.7,366.9 L1132.2,368.1 L1133.7,368.3 L1135.2,368.6 L1136.7,369.0 L1138.2,369.5 L1139.7,370.2 L1141.2,370.6 L1142.7,371.0 L1144.2,371.5 L1145.2,371.4 L1147.2,372.5 L1148.7,373.0 L1150.2,372.8 L1151.7,373.2 L1153.2,373.3 L1154.7,373.4 L1156.2,374.2 L1157.7,375.1 L1159.2,375.6 L1160.7,375.6 L1162.2,375.8 L1163.7,376.2 L1165.2,376.5 L1166.7,376.7 L1168.2,376.7 L1169.7,377.5 L1170.2,378.0 L1171.2,378.7 L1172.7,378.7 L1174.2,378.6 L1175.7,378.9 L1177.2,379.1 L1178.7,379.0 L1180.2,378.9 L1181.7,379.4 L1183.2,379.9 L1184.7,380.2 L1186.2,380.2 L1187.7,380.4 L1189.2,380.7 L1190.7,381.1 L1192.2,381.4 L1193.7,381.5 L1195.3,381.6 L1196.7,381.6 L1198.2,382.0 L1199.7,382.0 L1201.2,381.8 L1202.7,382.2 L1204.2,382.4 L1205.7,382.4 L1207.2,382.8 L1208.7,382.9 L1210.2,383.0 L1211.7,382.9 L1213.2,383.3 L1214.7,383.5 L1216.2,383.3 L1217.7,383.3 L1219.2,383.4 L1220.3,383.7 L1222.2,383.8 L1223.7,383.9 L1225.2,383.7 L1226.7,383.4 L1228.2,383.4 L1229.7,383.8 L1231.2,384.3 L1232.7,384.8 L1234.2,384.5 L1235.7,383.9 L1237.2,383.7 L1238.7,384.3 L1240.2,384.3 L1241.7,384.1 L1243.2,384.6 L1244.7,384.5 L1246.2,384.2 L1247.7,384.1 L1249.2,384.6 L1250.7,384.7 L1252.2,384.4 L1253.7,384.3 L1255.2,384.5 L1256.7,385.0 L1257.9,385.1 L1259.7,385.3 L1261.2,385.1 L1262.7,384.8 L1264.2,384.7 L1265.7,384.3 L1267.2,383.8 L1268.7,383.8 L1270.2,383.9 L1271.7,383.5 L1273.2,383.2 L1274.7,383.1 L1276.2,383.4 L1277.9,382.6 L1279.2,382.2 L1280.7,382.0 L1282.2,382.0 L1283.7,381.5 L1285.2,380.5 L1286.7,379.8 L1287.9,378.9 L1289.7,378.2 L1291.2,377.6 L1292.7,375.9 L1294.2,373.9 L1295.7,372.1 L1297.2,370.7 L1297.9,369.8 L1298.7,369.1 L1300.2,368.4 L1301.7,367.3 L1303.2,366.1 L1304.2,365.5 L1306.2,364.3 L1307.7,364.3 L1308.5,364.0 L1309.2,364.2 L1310.7,364.8 L1312.2,365.8 L1313.7,366.9 L1314.2,366.8 L1315.2,367.2 L1316.7,368.8 L1318.2,371.1 L1319.7,372.9 L1320.5,373.7 L1321.2,374.6 L1322.7,376.3 L1324.2,377.3 L1325.7,378.4 L1327.2,379.6 L1328.7,380.3 L1330.5,381.2 L1331.7,382.3 L1333.2,383.0 L1334.7,383.5 L1336.2,383.4 L1337.7,384.1 L1339.2,384.6 L1340.7,385.4 L1342.2,385.1 L1343.7,385.1 L1345.5,385.5 L1346.7,385.5 L1348.2,385.6 L1349.7,386.0 L1351.2,386.2 L1352.7,386.3 L1354.2,386.1 L1355.7,385.9 L1357.2,386.0 L1358.7,386.3 L1360.2,386.3 L1361.7,386.7 L1363.2,386.5 L1364.7,386.4 L1366.2,386.7 L1367.7,386.8 L1369.2,386.9 L1370.6,387.0 L1372.2,387.1 L1373.7,386.5 L1375.2,386.0 L1376.7,386.0 L1378.2,386.2 L1379.7,386.9 L1381.2,387.3 L1382.7,386.8 L1384.2,386.5 L1385.7,387.0 L1387.2,387.0 L1388.1,386.9 L1388.7,387.0 L1390.2,386.9 L1391.7,386.7 L1393.2,387.0 L1394.7,386.8 L1396.2,386.7 L1397.7,387.0 L1399.2,387.7 L1400.7,387.9 L1402.2,387.6 L1403.7,387.1 L1405.2,386.9 L1406.7,387.2 L1408.2,387.3 L1409.7,387.2 L1411.2,386.9 L1412.7,386.9 L1414.2,387.1 L1415.7,387.6 L1417.2,387.7 L1418.7,387.4 L1420.2,387.7 L1421.7,387.7 L1423.2,387.4 L1424.7,387.6 L1426.2,387.8 L1427.7,387.6 L1429.2,387.9 L1430.7,387.8 L1432.2,387.7 L1433.7,387.6 L1435.2,387.4 L1436.7,387.8 L1438.2,387.9 L1439.7,387.8 L1441.2,387.9 L1442.7,388.1 L1444.2,388.0 L1445.7,387.9 L1447.2,388.2 L1448.7,388.4 L1450.2,388.2 L1451.7,388.1 L1453.2,388.4 L1454.7,388.4 L1456.2,388.5 L1457.7,388.3 L1459.2,388.0 L1460.7,387.9 L1462.2,388.1 L1463.7,388.2 L1465.2,388.0 L1466.7,388.6 L1468.2,388.9 L1469.7,388.6 L1471.2,388.2 L1472.7,388.2 L1474.2,388.7 L1475.7,389.0 L1477.2,389.0 L1478.7,389.0 L1480.2,388.8 L1481.7,388.9 L1483.2,389.0 L1484.7,389.0 L1486.2,389.2 L1487.7,389.3 L1489.2,389.0 L1490.7,388.8 L1492.2,389.0 L1493.7,389.4 L1495.2,389.1 L1496.7,389.1 L1498.2,389.3 L1499.7,389.9 L1501.2,389.5 L1502.7,389.5 L1504.2,389.6 L1505.7,390.2 L1507.2,389.6 L1508.7,389.5 L1510.2,389.5 L1511.7,389.7 L1513.2,389.5 L1514.7,389.4 L1516.2,389.4 L1517.7,389.7 L1519.2,390.1 L1520.7,390.3 L1522.2,389.6 L1523.7,390.0 L1525.2,390.1 L1526.7,390.0 L1528.2,390.1 L1529.7,390.3 L1531.2,390.3 L1532.7,390.3 L1534.2,390.1 L1535.7,390.3 L1537.2,390.5 L1538.7,390.3 L1540.2,390.3 L1541.7,390.6 L1543.2,390.8 L1544.7,390.8 L1546.2,390.5 L1547.7,390.3 L1549.2,390.9 L1550.7,391.3 L1552.2,391.3 L1553.7,391.2 L1555.2,391.2 L1556.7,390.9 L1558.2,390.7 L1559.7,390.9 L1561.2,391.1 L1562.7,391.5 L1564.2,391.5 L1565.7,391.1 L1567.2,391.1 L1568.7,391.2 L1570.2,391.5 L1571.7,391.7 L1573.2,391.5 L1574.7,391.6 L1576.2,391.1 L1577.7,391.3 L1579.2,391.9 L1580.7,391.8 L1582.2,391.7 L1583.7,391.7 L1585.2,391.6 L1586.7,391.6 L1588.2,391.7 L1589.3,391.7 L1591.2,391.7 L1592.7,391.6 L1594.2,391.7 L1595.7,391.6 L1597.2,391.8 L1598.7,391.8 L1600.2,391.8 L1601.7,391.8 L1603.2,391.6 L1604.7,391.6 L1606.2,391.8 L1607.7,392.0 L1609.2,392.1 L1610.7,391.9 L1612.2,391.7 L1613.7,391.9 L1615.2,392.0 L1616.7,392.2 L1618.2,392.5 L1619.7,392.4 L1621.2,391.7 L1622.7,391.7 L1624.2,392.0 L1625.7,392.3 L1627.2,392.3 L1628.7,392.2 L1630.2,392.2 L1631.7,392.0 L1633.2,392.0 L1634.7,392.1 L1636.2,392.0 L1637.7,392.4 L1639.2,392.0 L1640.7,391.8 L1642.2,392.0 L1643.7,391.7 L1645.2,391.9 L1646.7,392.2 L1648.2,392.8 L1649.7,393.2 L1651.2,392.4 L1652.7,391.9 L1654.2,392.3 L1655.7,392.4 L1657.2,392.1 L1658.7,392.4 L1660.2,392.8 L1661.7,392.5 L1663.2,392.1 L1664.7,392.0 L1666.2,391.8 L1667.7,392.0 L1669.2,392.3 L1670.7,392.5 L1672.2,391.9 L1673.7,391.8 L1675.2,392.3 L1676.7,392.5 L1678.2,392.3 L1679.7,392.4 L1681.2,392.6 L1682.7,392.7 L1684.2,392.6 L1685.7,392.4 L1687.2,392.1 L1688.7,392.5 L1689.5,392.4 L1690.2,392.1 L1691.7,392.2 L1693.2,392.2 L1694.7,392.2 L1696.2,392.3 L1697.7,392.1 L1699.2,392.2 L1700.7,392.9 L1702.2,392.9 L1703.7,393.0 L1705.2,392.6 L1706.7,392.8 L1708.2,392.6 L1709.7,392.9 L1711.2,392.8 L1712.7,392.6 L1714.2,392.4 L1715.7,392.5 L1717.2,392.6 L1718.7,391.9 L1720.2,391.9 L1721.7,391.9 L1723.2,392.1 L1724.7,392.5 L1726.2,392.6 L1727.7,392.5 L1729.2,392.6 L1730.7,392.2 L1732.2,392.1 L1733.7,392.4 L1735.2,392.5 L1736.7,392.2 L1738.2,392.1 L1739.7,392.5 L1741.2,392.8 L1742.7,392.4 L1744.2,392.2 L1745.7,392.0 L1747.2,392.1 L1748.7,392.1 L1750.2,392.4 L1751.7,392.8 L1753.2,392.5 L1754.7,392.2 L1756.2,392.3 L1757.7,392.0 L1759.2,392.5 L1760.7,392.3 L1762.2,392.0 L1763.7,392.0 L1765.2,392.1 L1766.7,392.7 L1768.2,392.5 L1769.7,391.9 L1771.2,392.0 L1772.7,392.1 L1774.2,392.1 L1775.7,392.2 L1777.2,392.1 L1778.4,392.1" fill="none" stroke="#FF6000" stroke-width="14.0" stroke-linejoin="round" stroke-linecap="butt"/>
<path d="M122.7,204.5 L124.2,203.4 L125.7,202.2 L127.2,201.2 L129.1,200.0 L130.2,199.0 L131.7,198.5 L133.2,197.3 L134.7,196.5 L136.1,196.4 L137.7,197.4 L139.2,198.6 L140.1,199.8 L140.7,200.7 L142.2,202.7 L143.1,202.9 L143.7,202.8 L145.2,202.7 L146.7,202.6 L148.2,202.3 L149.7,201.8 L151.2,202.0 L152.1,202.1 L152.7,202.0 L154.2,201.9 L155.7,201.7 L157.2,201.7 L158.7,201.8 L160.2,202.1 L161.7,202.5 L163.2,202.4 L164.7,202.6 L166.2,202.8 L167.7,203.1 L169.2,203.6 L170.7,204.3 L172.2,204.8 L173.7,205.9 L175.2,207.0 L176.7,207.6 L178.2,207.8 L179.7,208.2 L180.2,208.6 L181.2,209.4 L182.7,209.6 L184.2,209.7 L185.7,210.5 L187.2,211.3 L188.7,211.4 L190.2,211.8 L191.7,212.3 L192.6,212.4 L193.2,212.5 L194.7,213.6 L196.2,215.0 L197.7,216.4 L199.2,217.5 L200.2,218.0 L202.2,218.4 L203.7,218.7 L205.2,218.8 L206.7,219.3 L208.2,219.5 L209.7,219.5 L211.2,219.9 L212.7,220.2 L214.2,220.9 L215.7,221.6 L217.2,222.0 L218.7,221.6 L220.2,221.8 L221.7,222.6 L223.2,223.4 L224.7,224.0 L225.2,223.9 L226.2,223.6 L227.7,224.3 L229.2,225.1 L230.7,225.4 L232.2,225.8 L233.7,225.9 L235.2,226.2 L236.7,226.6 L238.2,227.0 L239.7,227.3 L241.2,227.5 L242.7,227.7 L244.2,228.3 L245.7,228.7 L247.2,229.3 L248.7,229.7 L250.2,229.8 L251.7,229.8 L253.2,230.2 L254.7,230.8 L256.2,231.1 L257.7,231.4 L259.2,231.8 L260.7,232.2 L262.2,232.8 L263.7,233.1 L265.2,233.8 L266.7,234.2 L268.2,234.4 L269.7,234.5 L271.2,235.2 L272.7,235.7 L274.2,235.8 L275.3,236.2 L277.2,236.9 L278.7,237.3 L280.2,238.3 L281.7,239.1 L283.2,239.3 L284.7,239.9 L286.2,240.0 L287.8,240.4 L289.2,240.4 L290.7,241.1 L292.2,241.2 L293.7,241.1 L295.2,241.1 L296.7,241.7 L298.2,241.8 L299.7,241.2 L300.3,241.7 L301.2,242.0 L302.7,241.6 L304.2,241.3 L305.7,241.7 L307.2,241.6 L308.7,241.4 L310.2,241.3 L311.7,241.8 L313.2,242.0 L314.7,241.7 L316.2,241.8 L317.7,241.6 L319.2,242.0 L320.7,241.9 L322.2,241.8 L323.7,241.9 L325.4,242.2 L326.7,242.2 L328.2,242.1 L329.7,242.0 L331.2,242.0 L332.7,242.1 L334.2,242.1 L335.7,242.1 L337.2,241.7 L338.7,241.3 L340.2,242.2 L341.7,242.6 L343.2,242.2 L344.7,241.9 L346.2,241.8 L347.7,241.9 L349.2,241.8 L350.4,241.6 L352.2,241.6 L353.7,241.7 L355.2,242.0 L356.7,242.1 L358.2,242.3 L359.7,242.5 L361.2,242.8 L362.7,243.0 L364.2,243.3 L365.7,242.7 L367.2,242.9 L368.7,243.8 L370.2,244.3 L371.7,243.9 L373.2,243.8 L374.7,244.1 L376.2,244.4 L377.7,244.3 L379.2,244.4 L380.7,244.2 L382.2,244.1 L383.0,244.4 L383.7,244.7 L385.2,244.7 L386.7,244.3 L388.2,244.1 L389.7,244.2 L391.2,244.1 L392.7,243.9 L394.2,243.8 L395.7,243.9 L397.2,243.8 L398.7,243.9 L400.5,243.7 L401.7,243.2 L403.2,242.7 L404.7,243.0 L406.2,243.1 L407.7,243.1 L409.2,243.0 L410.7,242.7 L412.2,242.7 L413.7,242.6 L415.2,242.8 L416.7,242.1 L418.2,241.6 L419.7,241.6 L421.2,241.7 L422.7,241.9 L424.2,242.4 L425.5,241.9 L427.2,241.5 L428.7,241.8 L430.2,241.3 L431.7,241.1 L433.2,241.4 L434.7,241.3 L436.2,240.9 L437.7,241.0 L439.2,240.8 L440.7,240.8 L442.2,240.5 L443.7,240.3 L445.2,239.6 L446.7,239.1 L448.2,239.4 L449.7,238.7 L450.6,238.2 L451.2,238.0 L452.7,237.6 L454.2,237.1 L455.7,236.4 L457.2,235.8 L458.7,235.2 L460.6,233.9 L461.7,233.0 L463.2,232.4 L464.7,231.9 L466.2,231.2 L467.7,231.1 L469.2,230.4 L470.7,229.8 L472.2,229.2 L473.7,228.4 L475.2,228.1 L476.7,228.1 L478.2,227.8 L479.7,227.5 L481.2,227.5 L483.1,226.9 L484.2,226.9 L485.7,226.9 L487.2,226.9 L488.7,228.1 L490.2,228.4 L491.7,228.5 L493.2,229.6 L494.7,229.9 L496.2,230.1 L497.7,230.4 L499.2,230.8 L500.6,231.1 L502.2,231.9 L503.7,232.3 L505.2,232.9 L506.7,233.7 L508.2,234.0 L509.7,234.5 L511.2,234.9 L512.7,235.3 L514.2,236.2 L515.7,236.9 L517.2,237.2 L518.7,237.4 L520.2,237.3 L520.7,237.2 L521.7,237.5 L523.2,238.3 L524.7,238.6 L526.2,239.0 L527.7,238.8 L529.2,239.0 L530.7,239.5 L532.2,240.0 L533.7,240.0 L535.2,240.2 L536.7,240.3 L538.2,240.4 L539.7,240.3 L541.2,240.5 L542.7,240.6 L543.2,240.7 L544.2,240.7 L545.7,240.4 L547.2,240.3 L548.7,240.3 L550.2,240.3 L551.7,240.1 L553.2,239.6 L554.7,239.8 L556.2,239.9 L557.7,239.0 L559.2,238.7 L560.7,238.8 L562.2,239.1 L563.7,239.6 L565.2,239.3 L566.7,239.1 L568.2,239.4 L569.7,239.4 L571.2,239.8 L572.7,239.9 L574.2,240.1 L575.7,240.1 L577.2,240.8 L578.7,240.6 L580.2,240.5 L581.7,240.3 L583.2,240.2 L585.0,240.3 L586.2,240.6 L587.7,240.7 L589.2,241.1 L590.7,241.3 L592.2,241.9 L593.7,242.2 L595.2,242.3 L596.7,242.8 L598.2,243.0 L599.7,243.5 L601.2,243.7 L602.7,243.8 L604.2,243.6 L605.7,243.9 L607.6,244.2 L608.7,243.7 L610.2,243.1 L611.7,242.9 L613.2,242.7 L614.7,242.9 L616.2,243.5 L617.7,243.8 L619.2,243.5 L620.7,243.4 L622.6,243.2 L623.7,242.9 L625.2,242.4 L626.7,241.7 L628.2,241.0 L629.7,240.2 L631.4,240.4 L632.7,240.6 L634.2,240.6 L635.7,241.2 L637.2,241.4 L638.7,242.0 L640.2,242.8 L641.7,243.2 L643.2,243.5 L645.1,243.6 L646.2,243.8 L647.7,243.9 L649.2,243.3 L650.7,243.5 L652.2,243.4 L653.7,243.4 L655.2,242.9 L656.7,242.1 L658.2,242.4 L659.7,242.4 L661.2,242.0 L662.7,241.7 L664.2,241.7 L665.2,241.5 L667.2,241.6 L668.7,241.4 L670.2,241.1 L671.7,240.1 L673.2,239.5 L674.7,239.8 L676.2,239.8 L677.7,239.2 L679.2,238.6 L680.7,238.8 L682.2,239.0 L682.7,238.9 L683.7,238.8 L684.5,238.8 L685.2,238.4 L686.7,237.1 L688.2,235.3 L688.9,234.8 L689.7,233.4 L691.2,230.2 L692.1,228.0 L692.7,226.8 L694.2,223.0 L695.3,221.2 L697.2,218.5 L698.4,217.4 L700.2,216.0 L700.7,216.0 L701.7,216.5 L703.5,217.6 L704.7,218.5 L706.2,220.6 L706.7,221.1 L707.7,223.6 L709.3,228.3 L710.7,231.3 L711.8,232.8 L713.7,234.2 L715.2,234.7 L716.2,234.4 L717.8,234.3 L719.7,234.3 L721.2,234.8 L722.7,235.2 L724.2,234.9 L725.7,234.2 L727.2,234.6 L728.7,235.0 L730.3,234.6 L731.7,234.7 L733.2,235.5 L734.7,235.5 L736.2,235.6 L737.7,236.1 L739.2,236.3 L740.3,236.4 L742.2,236.6 L743.7,236.4 L745.2,235.8 L746.7,235.2 L748.2,234.8 L749.7,234.1 L751.2,233.7 L752.7,233.4 L754.2,233.2 L755.3,233.2 L757.2,232.7 L758.7,232.0 L760.2,232.1 L761.7,232.7 L763.2,232.5 L764.7,232.4 L766.2,232.3 L767.7,232.5 L769.2,232.4 L770.7,232.6 L772.2,232.3 L773.7,232.5 L775.3,232.4 L776.7,232.0 L778.2,232.1 L779.7,231.6 L781.2,231.4 L782.7,231.4 L784.2,231.0 L785.7,230.6 L787.2,230.4 L788.7,230.1 L790.2,230.3 L791.7,230.1 L793.2,229.6 L794.7,229.3 L796.2,229.4 L797.9,229.5 L799.2,229.1 L800.7,228.6 L802.2,228.5 L803.7,228.2 L805.2,228.1 L806.7,228.3 L808.2,227.7 L809.7,227.2 L811.2,226.7 L812.7,226.7 L814.2,227.0 L815.7,226.9 L817.2,226.8 L818.7,226.4 L820.2,226.3 L821.7,226.7 L822.9,226.9 L824.7,226.6 L826.2,226.7 L827.7,226.7 L829.2,226.3 L830.7,225.6 L832.2,225.6 L833.7,225.7 L835.2,225.5 L836.7,225.3 L838.2,224.8 L839.7,224.9 L841.2,224.9 L842.7,224.3 L844.2,224.4 L845.7,224.5 L847.2,224.3 L848.7,224.4 L850.2,224.4 L851.7,224.4 L853.2,224.4 L854.7,224.4 L856.2,224.3 L857.7,224.3 L859.2,224.3 L860.5,224.6 L862.2,224.9 L863.7,224.6 L865.2,224.4 L866.7,224.2 L868.2,224.5 L869.7,224.3 L871.2,224.3 L872.7,224.6 L874.2,224.8 L875.7,225.1 L877.2,225.1 L878.7,224.7 L880.2,224.9 L881.7,225.4 L883.2,225.3 L884.7,225.3 L886.2,225.3 L887.7,225.0 L889.2,225.3 L890.7,225.6 L892.2,225.6 L893.7,225.0 L895.2,225.0 L896.7,225.2 L898.0,225.0 L899.7,225.0 L901.2,225.2 L902.7,224.9 L904.2,224.6 L905.7,224.9 L907.2,224.8 L908.7,224.5 L910.2,224.4 L911.7,224.7 L913.2,224.0 L914.7,223.9 L916.2,224.4 L917.7,224.9 L919.2,224.7 L920.7,224.1 L922.2,223.9 L923.7,223.8 L925.2,224.1 L926.7,223.7 L928.2,223.9 L929.7,224.2 L931.2,224.1 L932.7,224.2 L934.2,223.8 L935.6,224.0 L937.2,224.1 L938.7,224.0 L940.2,224.3 L941.7,224.0 L943.2,223.9 L944.7,225.0 L946.2,224.6 L947.7,224.0 L949.2,223.7 L950.7,224.0 L952.2,224.1 L953.7,224.4 L955.2,224.6 L956.7,224.9 L958.2,224.6 L959.7,224.6 L961.2,224.6 L962.7,224.5 L964.2,224.5 L965.7,224.9 L967.2,224.8 L968.7,224.4 L970.2,224.2 L971.7,224.6 L973.2,224.9 L974.7,224.8 L976.2,224.7 L977.7,224.0 L979.2,223.4 L980.7,222.5 L982.2,222.3 L983.7,222.2 L985.2,222.2 L986.7,222.1 L988.2,221.7 L989.4,221.8 L991.2,222.0 L992.7,222.4 L994.2,222.9 L995.7,223.8 L997.2,224.3 L998.7,225.3 L1000.2,225.9 L1000.7,226.0 L1001.7,226.3 L1003.2,227.3 L1004.7,228.4 L1006.2,229.0 L1007.7,229.5 L1009.2,230.6 L1010.7,230.9 L1012.2,231.2 L1013.7,231.2 L1015.2,230.7 L1016.7,230.4 L1018.2,230.9 L1019.7,231.4 L1020.7,231.3 L1022.7,231.6 L1024.2,231.7 L1025.7,231.8 L1027.2,231.8 L1028.7,232.5 L1030.2,232.8 L1031.7,233.1 L1033.2,233.3 L1034.7,233.6 L1036.2,233.7 L1037.7,233.9 L1039.2,233.6 L1040.7,233.8 L1042.2,234.5 L1043.7,234.6 L1045.0,234.6 L1046.7,234.7 L1048.2,234.9 L1049.7,234.9 L1051.2,235.0 L1052.7,234.8 L1054.2,235.0 L1055.7,235.5 L1057.2,235.5 L1058.7,235.2 L1060.2,235.4 L1061.7,235.3 L1063.2,235.4 L1064.7,235.0 L1066.2,235.1 L1067.7,235.5 L1069.2,235.9 L1070.1,236.3 L1070.7,236.4 L1072.2,236.7 L1073.7,236.7 L1075.2,236.4 L1076.7,236.6 L1078.2,237.0 L1079.7,237.1 L1081.2,237.1 L1082.7,237.1 L1084.2,237.3 L1085.7,237.2 L1087.2,237.8 L1088.7,238.3 L1090.1,238.9 L1091.7,239.2 L1093.2,239.7 L1094.7,240.4 L1096.2,240.5 L1097.7,241.0 L1099.2,241.3 L1100.7,242.3 L1102.2,243.2 L1103.7,243.8 L1105.2,244.1 L1106.7,244.8 L1107.6,245.3 L1108.2,245.4 L1109.7,246.0 L1111.2,246.6 L1112.7,247.1 L1114.2,247.3 L1115.7,248.0 L1117.2,249.5 L1118.7,249.9 L1120.2,249.7 L1121.7,250.5 L1123.2,251.3 L1124.7,251.9 L1126.2,252.1 L1127.7,252.4 L1129.2,253.0 L1130.7,253.6 L1132.2,254.2 L1133.7,254.7 L1135.2,255.4 L1136.7,256.3 L1138.2,256.8 L1139.7,256.7 L1141.2,257.2 L1142.7,257.8 L1144.2,258.7 L1145.7,259.1 L1147.2,259.7 L1148.7,259.8 L1150.2,260.0 L1151.7,260.3 L1153.2,261.1 L1154.7,261.2 L1156.2,261.1 L1157.7,261.5 L1159.2,261.6 L1160.7,262.4 L1162.2,263.0 L1163.7,263.5 L1165.2,263.9 L1166.7,263.9 L1168.2,264.3 L1169.7,264.5 L1171.2,264.4 L1172.7,264.3 L1174.2,265.1 L1175.3,265.1 L1177.2,265.3 L1178.7,265.3 L1180.2,265.8 L1181.7,266.0 L1183.2,266.1 L1184.7,266.3 L1186.2,266.8 L1187.7,267.0 L1189.2,267.3 L1190.7,267.8 L1192.2,267.1 L1193.7,266.9 L1195.2,267.0 L1196.7,267.3 L1198.2,267.1 L1199.7,266.7 L1200.3,267.1 L1201.2,267.8 L1202.7,268.0 L1204.2,267.7 L1205.7,267.9 L1207.2,268.2 L1208.7,268.3 L1210.2,268.7 L1211.7,268.8 L1213.2,268.9 L1214.7,269.0 L1216.2,269.5 L1217.7,269.5 L1219.2,269.6 L1220.7,269.5 L1222.2,269.6 L1223.7,269.4 L1225.3,269.3 L1226.7,269.5 L1228.2,269.7 L1229.7,270.0 L1231.2,270.2 L1232.7,269.8 L1234.2,269.8 L1235.7,270.6 L1237.2,270.4 L1238.7,269.9 L1240.2,270.3 L1241.7,270.3 L1243.2,269.8 L1244.7,270.2 L1246.2,270.5 L1247.7,270.8 L1249.2,270.9 L1250.7,270.8 L1252.2,270.9 L1253.7,270.6 L1255.2,270.4 L1256.7,270.4 L1257.9,270.6 L1259.7,270.3 L1261.2,270.6 L1262.7,270.3 L1264.2,270.4 L1265.7,270.6 L1267.2,270.5 L1268.7,269.7 L1270.2,269.7 L1271.7,269.8 L1273.2,269.7 L1274.7,269.6 L1276.2,269.0 L1277.7,269.2 L1279.2,269.3 L1280.4,269.1 L1282.2,268.9 L1283.7,268.3 L1285.2,268.2 L1286.7,267.7 L1288.2,267.4 L1289.7,266.9 L1291.2,266.6 L1292.9,265.8 L1294.2,264.8 L1295.7,264.0 L1297.2,263.2 L1298.7,262.1 L1300.5,261.4 L1301.7,261.5 L1303.2,260.9 L1304.7,260.5 L1306.2,259.7 L1308.0,259.4 L1309.2,259.7 L1310.7,260.2 L1312.2,261.2 L1313.7,261.7 L1315.2,262.3 L1316.7,262.7 L1318.2,263.3 L1319.7,264.4 L1321.2,265.8 L1322.7,267.0 L1324.2,267.9 L1325.7,268.5 L1327.2,269.1 L1328.0,269.6 L1328.7,270.0 L1330.2,270.2 L1331.7,270.3 L1333.2,270.3 L1334.7,270.7 L1336.2,271.0 L1337.7,271.0 L1339.2,271.1 L1340.7,271.2 L1342.2,271.5 L1343.7,271.3 L1345.5,271.5 L1346.7,271.7 L1348.2,271.9 L1349.7,272.2 L1351.2,272.1 L1352.7,271.8 L1354.2,271.5 L1355.7,272.1 L1357.2,272.5 L1358.7,271.8 L1360.2,271.6 L1361.7,272.0 L1363.2,272.4 L1364.7,272.3 L1366.2,272.1 L1367.7,272.2 L1369.2,272.6 L1370.7,272.8 L1372.2,273.1 L1373.7,272.9 L1375.2,272.6 L1376.7,272.6 L1378.2,272.3 L1379.7,272.2 L1381.2,272.5 L1382.7,272.6 L1384.2,272.2 L1385.7,272.3 L1387.2,272.5 L1388.1,272.7 L1388.7,272.7 L1390.2,272.9 L1391.7,273.0 L1393.2,273.0 L1394.7,272.7 L1396.2,273.4 L1397.7,273.5 L1399.2,273.2 L1400.7,273.3 L1402.2,273.3 L1403.7,273.1 L1405.2,273.3 L1406.7,273.5 L1408.2,273.6 L1409.7,273.7 L1411.2,273.6 L1412.7,273.4 L1414.2,273.3 L1415.7,273.4 L1417.2,273.6 L1418.7,274.1 L1420.2,273.9 L1421.7,273.6 L1423.2,273.8 L1424.7,273.6 L1426.2,273.1 L1427.7,273.7 L1429.2,273.7 L1430.7,274.0 L1432.2,273.8 L1433.7,273.8 L1435.2,274.1 L1436.7,273.9 L1438.2,274.1 L1439.7,274.5 L1441.2,274.7 L1442.7,274.7 L1444.2,274.5 L1445.7,274.5 L1447.2,275.0 L1448.7,274.9 L1450.2,275.1 L1451.7,274.9 L1453.2,275.2 L1454.7,275.2 L1456.2,274.8 L1457.7,275.1 L1459.2,275.3 L1460.7,275.3 L1462.2,275.2 L1463.7,275.2 L1465.2,275.0 L1466.7,275.0 L1468.2,275.4 L1469.7,275.4 L1471.2,275.8 L1472.7,275.7 L1474.2,275.3 L1475.7,275.4 L1477.2,275.4 L1478.7,275.4 L1480.2,275.7 L1481.7,275.8 L1483.2,276.3 L1484.7,276.1 L1486.2,275.7 L1487.7,275.8 L1489.2,275.7 L1490.7,275.6 L1492.2,276.2 L1493.7,276.5 L1495.2,276.4 L1496.7,276.2 L1498.2,276.4 L1499.7,276.4 L1501.2,276.7 L1502.7,276.9 L1504.2,276.5 L1505.7,276.0 L1507.2,276.3 L1508.7,276.8 L1510.2,276.8 L1511.7,276.4 L1513.2,276.5 L1514.7,276.8 L1516.2,277.0 L1517.7,277.0 L1519.2,276.6 L1520.7,276.8 L1522.2,277.2 L1523.7,277.2 L1525.2,277.2 L1526.7,277.4 L1528.2,277.3 L1529.7,277.2 L1531.2,277.0 L1532.7,276.7 L1534.2,276.8 L1535.7,277.2 L1537.2,277.2 L1538.7,277.2 L1540.2,277.4 L1541.7,277.2 L1543.2,277.4 L1544.7,277.5 L1546.2,277.1 L1547.7,277.0 L1549.2,277.9 L1550.7,277.7 L1552.2,277.0 L1553.7,277.4 L1555.2,277.8 L1556.7,277.8 L1558.2,277.9 L1559.7,277.7 L1561.2,277.9 L1562.7,277.9 L1564.2,277.9 L1565.7,278.0 L1567.2,278.2 L1568.7,278.3 L1570.2,278.0 L1571.7,278.0 L1573.2,278.2 L1574.7,278.2 L1576.2,278.4 L1577.7,278.6 L1579.2,278.7 L1580.7,278.2 L1582.2,277.7 L1583.7,278.2 L1585.2,278.5 L1586.7,278.4 L1588.2,278.2 L1589.3,277.8 L1591.2,278.4 L1592.7,278.3 L1594.2,278.0 L1595.7,278.1 L1597.2,278.3 L1598.7,278.7 L1600.2,279.0 L1601.7,279.2 L1603.2,278.8 L1604.7,278.2 L1606.2,278.3 L1607.7,279.0 L1609.2,279.2 L1610.7,278.9 L1612.2,278.8 L1613.7,278.3 L1615.2,278.1 L1616.7,278.3 L1618.2,278.6 L1619.7,278.7 L1621.2,278.8 L1622.7,278.8 L1624.2,279.2 L1625.7,279.4 L1627.2,279.3 L1628.7,279.5 L1630.2,279.0 L1631.7,278.9 L1633.2,279.1 L1634.7,279.1 L1636.2,279.3 L1637.7,279.2 L1639.2,279.5 L1640.7,279.6 L1642.2,279.8 L1643.7,279.3 L1645.2,279.1 L1646.7,279.0 L1648.2,278.7 L1649.7,279.3 L1651.2,279.5 L1652.7,279.2 L1654.2,278.7 L1655.7,278.8 L1657.2,279.4 L1658.7,279.8 L1660.2,279.8 L1661.7,279.2 L1663.2,279.0 L1664.7,279.0 L1666.2,278.8 L1667.7,279.1 L1669.2,279.7 L1670.7,280.0 L1672.2,279.8 L1673.7,279.9 L1675.2,279.7 L1676.7,279.5 L1678.2,279.4 L1679.7,279.5 L1681.2,279.4 L1682.7,279.3 L1684.2,279.3 L1685.7,279.5 L1687.2,279.4 L1688.7,279.0 L1689.5,279.2 L1690.2,279.0 L1691.7,278.9 L1693.2,279.5 L1694.7,280.1 L1696.2,280.4 L1697.7,280.0 L1699.2,279.5 L1700.7,279.8 L1702.2,279.7 L1703.7,279.1 L1705.2,279.6 L1706.7,279.7 L1708.2,279.6 L1709.7,279.6 L1711.2,279.6 L1712.7,279.9 L1714.2,279.5 L1715.7,279.4 L1717.2,279.5 L1718.7,279.4 L1720.2,279.1 L1721.7,279.7 L1723.2,279.7 L1724.7,279.7 L1726.2,279.5 L1727.7,279.4 L1729.2,279.4 L1730.7,279.5 L1732.2,279.6 L1733.7,279.8 L1735.2,279.6 L1736.7,279.6 L1738.2,279.9 L1739.7,279.2 L1741.2,279.0 L1742.7,279.4 L1744.2,279.3 L1745.7,278.9 L1747.2,279.2 L1748.7,279.3 L1750.2,279.6 L1751.7,279.5 L1753.2,279.7 L1754.7,279.7 L1756.2,279.4 L1757.7,279.5 L1759.2,279.4 L1760.7,278.9 L1762.2,279.3 L1763.7,279.5 L1765.2,279.8 L1766.7,279.5 L1768.2,279.5 L1769.7,279.0 L1771.2,279.5 L1772.7,279.5 L1774.2,279.4 L1775.7,279.4 L1777.2,279.5 L1778.4,279.5" fill="none" stroke="#FF9400" stroke-width="14.0" stroke-linejoin="round" stroke-linecap="butt"/>
<text transform="translate(1376.8,251.6) scale(0.939,1.0)" font-size="73" text-anchor="start">Ar:O<tspan class="dv" font-size="64" dx="-1.5">₂</tspan><tspan dx="-2"> </tspan><tspan font-size="69.5" dx="1">(</tspan><tspan dx="0.5">50:4</tspan><tspan font-size="69.5" dx="0.5">)</tspan></text>
<text transform="translate(1380.5,361.6) scale(0.939,1.0)" font-size="73" text-anchor="start">Ar:O<tspan class="dv" font-size="64" dx="-1.5">₂</tspan><tspan dx="-2"> </tspan><tspan font-size="69.5" dx="1">(</tspan><tspan dx="0.5">50:3</tspan><tspan font-size="69.5" dx="0.5">)</tspan></text>
<text transform="translate(1380.5,461.7) scale(0.939,1.0)" font-size="73" text-anchor="start">Ar:O<tspan class="dv" font-size="64" dx="-1.5">₂</tspan><tspan dx="-2"> </tspan><tspan font-size="69.5" dx="1">(</tspan><tspan dx="0.5">50:2</tspan><tspan font-size="69.5" dx="0.5">)</tspan></text>
<text transform="translate(1379.2,839) scale(0.939,1.0)" font-size="73" text-anchor="start">Ar:O<tspan class="dv" font-size="64" dx="-1.5">₂</tspan><tspan dx="-2"> </tspan><tspan font-size="69.5" dx="1">(</tspan><tspan dx="0.5">50:1</tspan><tspan font-size="69.5" dx="0.5">)</tspan></text>
<text transform="translate(1376.7,1067.5) scale(0.939,1.0)" font-size="73" text-anchor="start">Ar:O<tspan class="dv" font-size="64" dx="-1.5">₂</tspan><tspan dx="-2"> </tspan><tspan font-size="69.5" dx="1">(</tspan><tspan dx="0.5">50:0</tspan><tspan font-size="69.5" dx="0.5">)</tspan></text>
<text transform="translate(1748.0,1195.8) scale(0.985,1.0)" font-size="69.3" text-anchor="end">Sapphire</text>
<text transform="translate(400.2,590.6) scale(0.942,1.0)" font-size="78" text-anchor="start">CuO</text>
<text transform="translate(205.7,864.4) scale(0.935,1.0)" font-size="78" text-anchor="start">Cu<tspan font-size="43.5" dy="16.2" dx="0">2</tspan><tspan dy="-16.2" dx="0">O</tspan></text>
<text transform="translate(838.1,877) scale(0.935,1.0)" font-size="78" text-anchor="start">Cu<tspan font-size="43.5" dy="16.2" dx="0">4</tspan><tspan dy="-16.2" dx="-5">O</tspan><tspan font-size="43.5" dy="16.2" dx="-5">3</tspan></text>
<text transform="translate(1055.4,931) scale(0.928,1.0)" font-size="78" text-anchor="start">Cu<tspan font-size="43.5" dy="16.2" dx="0">2</tspan><tspan dy="-16.2" dx="0">O</tspan></text>
<line x1="470.1" y1="603.1" x2="470.1" y2="635.0" stroke="#000" stroke-width="7"/><polygon points="470.1,678.5 459.1,633.0 481.1,633.0" fill="#000"/>
<line x1="255.2" y1="890.0" x2="237.9" y2="938.7" stroke="#000" stroke-width="7"/><polygon points="223.2,980.2 228.2,933.2 248.9,940.5" fill="#000"/>
<line x1="339.1" y1="893.8" x2="339.1" y2="970.2" stroke="#000" stroke-width="7"/><polygon points="339.1,1015.2 328.1,968.2 350.1,968.2" fill="#000"/>
<line x1="941.7" y1="905.5" x2="941.7" y2="937.7" stroke="#000" stroke-width="7"/><polygon points="941.7,981.2 931.0,935.7 952.5,935.7" fill="#000"/>
<line x1="1131.9" y1="954.6" x2="1131.9" y2="985.5" stroke="#000" stroke-width="7"/><polygon points="1131.9,1030.0 1121.2,983.5 1142.7,983.5" fill="#000"/>
</svg>
</body>
</html>
